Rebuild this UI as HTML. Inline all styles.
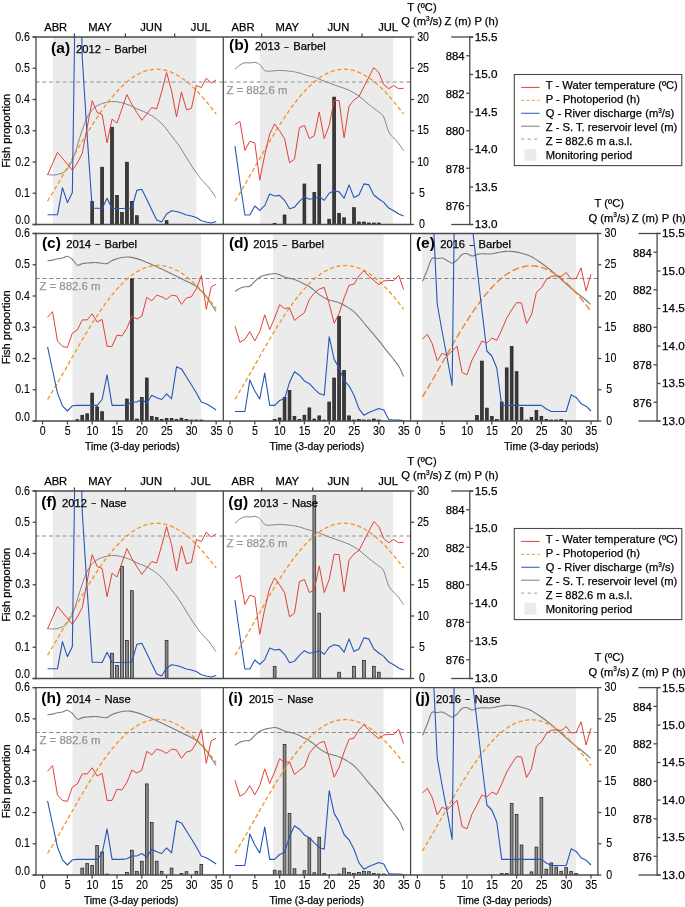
<!DOCTYPE html>
<html><head><meta charset="utf-8"><title>Fish proportion figure</title>
<style>html,body{margin:0;padding:0;background:#fff;}body{width:685px;height:907px;overflow:hidden;font-family:"Liberation Sans", sans-serif;}svg{display:block;will-change:transform;}</style>
</head><body>
<svg width="685" height="907" viewBox="0 0 685 907" font-family='"Liberation Sans", sans-serif'><defs><clipPath id="cpa"><rect x="36" y="37" width="187.3" height="187.5"/></clipPath><clipPath id="cpb"><rect x="223.3" y="37" width="187.3" height="187.5"/></clipPath><clipPath id="cpc"><rect x="36" y="233.5" width="187.3" height="187.5"/></clipPath><clipPath id="cpd"><rect x="223.3" y="233.5" width="187.3" height="187.5"/></clipPath><clipPath id="cpe"><rect x="410.6" y="233.5" width="187.3" height="187.5"/></clipPath><clipPath id="cpf"><rect x="36" y="491" width="187.3" height="187.5"/></clipPath><clipPath id="cpg"><rect x="223.3" y="491" width="187.3" height="187.5"/></clipPath><clipPath id="cph"><rect x="36" y="687.6" width="187.3" height="187.4"/></clipPath><clipPath id="cpi"><rect x="223.3" y="687.6" width="187.3" height="187.4"/></clipPath><clipPath id="cpj"><rect x="410.6" y="687.6" width="187.3" height="187.4"/></clipPath></defs><g clip-path="url(#cpa)"><rect x="52.9" y="37" width="143.5" height="187.5" fill="#ebebeb"/><line x1="35.5" y1="82.1" x2="223.3" y2="82.1" stroke="#b0b0b0" stroke-width="1.5" stroke-dasharray="3.9,2.9"/><rect x="90.8" y="201.4" width="2.8" height="24.1" fill="#3b3b3b" stroke="#1a1a1a" stroke-width="0.7"/><rect x="100.72" y="167.2" width="2.8" height="58.3" fill="#3b3b3b" stroke="#1a1a1a" stroke-width="0.7"/><rect x="110.64" y="127.2" width="2.8" height="98.3" fill="#3b3b3b" stroke="#1a1a1a" stroke-width="0.7"/><rect x="115.6" y="195.5" width="2.8" height="30" fill="#3b3b3b" stroke="#1a1a1a" stroke-width="0.7"/><rect x="120.56" y="212.5" width="2.8" height="13" fill="#3b3b3b" stroke="#1a1a1a" stroke-width="0.7"/><rect x="125.52" y="162.2" width="2.8" height="63.3" fill="#3b3b3b" stroke="#1a1a1a" stroke-width="0.7"/><rect x="130.48" y="201.4" width="2.8" height="24.1" fill="#3b3b3b" stroke="#1a1a1a" stroke-width="0.7"/><rect x="135.44" y="215.7" width="2.8" height="9.8" fill="#3b3b3b" stroke="#1a1a1a" stroke-width="0.7"/><rect x="165.2" y="220.7" width="2.8" height="4.8" fill="#3b3b3b" stroke="#1a1a1a" stroke-width="0.7"/><path d="M47.31,174.6 C48.53,174.67 52.16,175.25 54.6,175 C57.04,174.75 59.99,173.9 61.94,173.1 C63.89,172.3 64.85,171.78 66.31,170.2 C67.77,168.62 69.28,166.4 70.72,163.6 C72.17,160.8 73.54,157.53 74.99,153.4 C76.44,149.27 77.94,143.42 79.4,138.8 C80.87,134.18 82.3,129.6 83.77,125.7 C85.23,121.8 86.48,118.33 88.18,115.4 C89.89,112.47 91.8,110.03 93.99,108.1 C96.17,106.17 98.35,104.88 101.28,103.8 C104.2,102.72 108.37,101.85 111.54,101.6 C114.72,101.35 117.25,101.67 120.32,102.3 C123.4,102.93 127.23,104.3 130,105.4 C132.76,106.5 134.57,107.87 136.89,108.9 C139.2,109.93 141.57,110.57 143.88,111.6 C146.2,112.63 148.48,113.7 150.78,115.1 C153.08,116.5 155.36,118.03 157.67,120 C159.99,121.97 162.35,124.25 164.67,126.9 C166.98,129.55 169.25,132.9 171.56,135.9 C173.87,138.9 176.18,141.55 178.5,144.9 C180.83,148.25 183.18,152.3 185.5,156 C187.81,159.7 190.09,163.63 192.39,167.1 C194.69,170.57 197.67,174.6 199.29,176.8 C200.91,179 200.48,178.45 202.11,180.3 C203.75,182.15 206.79,185.02 209.11,187.9 C211.42,190.78 214.85,195.98 216,197.6" fill="none" stroke="#858585" stroke-width="1.0"/><path d="M47.56,201.16 L50.04,197.12 L52.52,192.99 L55,188.79 L57.48,184.54 L59.96,180.23 L62.44,175.9 L64.92,171.54 L67.4,167.17 L69.88,162.79 L72.36,158.43 L74.84,154.08 L77.32,149.77 L79.8,145.49 L82.28,141.26 L84.76,137.09 L87.24,132.98 L89.72,128.94 L92.2,124.99 L94.68,121.12 L97.16,117.35 L99.64,113.69 L102.12,110.13 L104.6,106.69 L107.08,103.37 L109.56,100.18 L112.04,97.13 L114.52,94.21 L117,91.43 L119.48,88.81 L121.96,86.33 L124.44,84.01 L126.92,81.85 L129.4,79.85 L131.88,78.02 L134.36,76.35 L136.84,74.86 L139.32,73.54 L141.8,72.39 L144.28,71.41 L146.76,70.62 L149.24,70 L151.72,69.55 L154.2,69.29 L156.68,69.2 L159.16,69.29 L161.64,69.55 L164.12,69.99 L166.6,70.6 L169.08,71.39 L171.56,72.34 L174.04,73.46 L176.52,74.74 L179,76.19 L181.48,77.79 L183.96,79.54 L186.44,81.45 L188.92,83.5 L191.4,85.69 L193.88,88.02 L196.36,90.48 L198.84,93.07 L201.32,95.77 L203.8,98.59 L206.28,101.52 L208.76,104.54 L211.24,107.66 L213.72,110.87 L216.2,114.15" fill="none" stroke="#f39322" stroke-width="1.3" stroke-dasharray="4.2,2.6"/><path d="M47.56,214.8 L52.52,214.8 L57.48,214.8 L62.44,187.6 L67.4,202.7 L72.36,192.4 L77.32,-152 L82.28,58 L87.24,137 L92.2,208.2 L97.16,208.2 L102.12,208.5 L107.08,198.2 L112.04,208.5 L117,208.5 L121.96,208.5 L126.92,208.2 L131.88,208 L136.84,190.4 L141.8,189.3 L146.76,199.2 L151.72,209.8 L156.68,219.9 L161.64,222 L166.6,214 L171.56,210.8 L176.52,211.5 L181.48,213 L186.44,215 L191.4,216 L196.36,217.5 L201.32,220.7 L206.28,222 L211.24,223 L216.2,221.4" fill="none" stroke="#2457b8" stroke-width="1.1" stroke-linejoin="round"/><path d="M47.56,175 L52.52,163.7 L57.48,152.4 L62.44,158.3 L67.4,164.3 L72.36,170.2 L77.32,163 L82.28,153.4 L87.24,127 L92.2,100.7 L97.16,112.5 L102.12,114.5 L107.08,142.8 L112.04,119.2 L117,123 L121.96,108.7 L126.92,94.6 L131.88,104.5 L136.84,112.5 L141.8,120.3 L146.76,114 L151.72,107.6 L156.68,109 L161.64,91.9 L166.6,72.5 L171.56,90.8 L176.52,117 L181.48,91.9 L186.44,109.8 L191.4,108.3 L196.36,85.5 L201.32,87.6 L206.28,78.2 L211.24,83 L216.2,79.9" fill="none" stroke="#e04238" stroke-width="1.0" stroke-linejoin="round"/></g><text x="51.1" y="52.6" font-size="15.5" text-anchor="start" font-weight="bold" fill="#000000">(a)</text><text x="76" y="52.6" font-size="11.2" text-anchor="start" font-weight="normal" fill="#000000" stroke="#000000" stroke-width="0.25">2012 <tspan font-size="8.6" dx="0.8" dy="-0.8">−</tspan><tspan dx="1.4" dy="0.8"> Barbel</tspan></text><g clip-path="url(#cpb)"><rect x="260" y="37" width="133.1" height="187.5" fill="#ebebeb"/><line x1="222.8" y1="82.1" x2="410.6" y2="82.1" stroke="#b0b0b0" stroke-width="1.5" stroke-dasharray="3.9,2.9"/><rect x="273.24" y="223.3" width="2.8" height="2.2" fill="#3b3b3b" stroke="#1a1a1a" stroke-width="0.7"/><rect x="283.16" y="215" width="2.8" height="10.5" fill="#3b3b3b" stroke="#1a1a1a" stroke-width="0.7"/><rect x="303" y="184" width="2.8" height="41.5" fill="#3b3b3b" stroke="#1a1a1a" stroke-width="0.7"/><rect x="312.92" y="192.5" width="2.8" height="33" fill="#3b3b3b" stroke="#1a1a1a" stroke-width="0.7"/><rect x="317.88" y="164.5" width="2.8" height="61" fill="#3b3b3b" stroke="#1a1a1a" stroke-width="0.7"/><rect x="327.8" y="219.2" width="2.8" height="6.3" fill="#3b3b3b" stroke="#1a1a1a" stroke-width="0.7"/><rect x="332.76" y="97.1" width="2.8" height="128.4" fill="#3b3b3b" stroke="#1a1a1a" stroke-width="0.7"/><rect x="337.72" y="213.4" width="2.8" height="12.1" fill="#3b3b3b" stroke="#1a1a1a" stroke-width="0.7"/><rect x="342.68" y="217.8" width="2.8" height="7.7" fill="#3b3b3b" stroke="#1a1a1a" stroke-width="0.7"/><rect x="352.6" y="207.7" width="2.8" height="17.8" fill="#3b3b3b" stroke="#1a1a1a" stroke-width="0.7"/><rect x="357.56" y="222" width="2.8" height="3.5" fill="#3b3b3b" stroke="#1a1a1a" stroke-width="0.7"/><rect x="362.52" y="222" width="2.8" height="3.5" fill="#3b3b3b" stroke="#1a1a1a" stroke-width="0.7"/><rect x="367.48" y="223" width="2.8" height="2.5" fill="#3b3b3b" stroke="#1a1a1a" stroke-width="0.7"/><rect x="372.44" y="223" width="2.8" height="2.5" fill="#3b3b3b" stroke="#1a1a1a" stroke-width="0.7"/><rect x="377.4" y="223" width="2.8" height="2.5" fill="#3b3b3b" stroke="#1a1a1a" stroke-width="0.7"/><path d="M234.96,69.3 C235.79,68.58 238.27,66.08 239.92,65 C241.57,63.92 243.23,63.13 244.88,62.8 C246.53,62.47 248.19,63.07 249.84,63 C251.49,62.93 253.15,62.15 254.8,62.4 C256.45,62.65 258.11,63.17 259.76,64.5 C261.41,65.83 263.07,69.28 264.72,70.4 C266.37,71.52 267.2,71.2 269.68,71.2 C272.16,71.2 276.29,70.4 279.6,70.4 C282.91,70.4 287.04,70.97 289.52,71.2 C292,71.43 292.83,71.52 294.48,71.8 C296.13,72.08 297.79,72.43 299.44,72.9 C301.09,73.37 302.75,74.07 304.4,74.6 C306.05,75.13 307.71,75.68 309.36,76.1 C311.01,76.52 312.67,76.58 314.32,77.1 C315.97,77.62 316.8,78.22 319.28,79.2 C321.76,80.18 325.89,81.77 329.2,83 C332.51,84.23 335.81,85.4 339.12,86.6 C342.43,87.8 345.73,88.62 349.04,90.2 C352.35,91.78 355.65,93.72 358.96,96.1 C362.27,98.48 365.57,101.85 368.88,104.5 C372.19,107.15 376.32,109.9 378.8,112 C381.28,114.1 382.11,113.78 383.76,117.1 C385.41,120.42 387.07,128.42 388.72,131.9 C390.37,135.38 392.03,136.08 393.68,138 C395.33,139.92 396.99,141.27 398.64,143.4 C400.29,145.53 402.77,149.57 403.6,150.8" fill="none" stroke="#858585" stroke-width="1.0"/><path d="M234.96,201.16 L237.44,197.12 L239.92,192.99 L242.4,188.79 L244.88,184.54 L247.36,180.23 L249.84,175.9 L252.32,171.54 L254.8,167.17 L257.28,162.79 L259.76,158.43 L262.24,154.08 L264.72,149.77 L267.2,145.49 L269.68,141.26 L272.16,137.09 L274.64,132.98 L277.12,128.94 L279.6,124.99 L282.08,121.12 L284.56,117.35 L287.04,113.69 L289.52,110.13 L292,106.69 L294.48,103.37 L296.96,100.18 L299.44,97.13 L301.92,94.21 L304.4,91.43 L306.88,88.81 L309.36,86.33 L311.84,84.01 L314.32,81.85 L316.8,79.85 L319.28,78.02 L321.76,76.35 L324.24,74.86 L326.72,73.54 L329.2,72.39 L331.68,71.41 L334.16,70.62 L336.64,70 L339.12,69.55 L341.6,69.29 L344.08,69.2 L346.56,69.29 L349.04,69.55 L351.52,69.99 L354,70.6 L356.48,71.39 L358.96,72.34 L361.44,73.46 L363.92,74.74 L366.4,76.19 L368.88,77.79 L371.36,79.54 L373.84,81.45 L376.32,83.5 L378.8,85.69 L381.28,88.02 L383.76,90.48 L386.24,93.07 L388.72,95.77 L391.2,98.59 L393.68,101.52 L396.16,104.54 L398.64,107.66 L401.12,110.87 L403.6,114.15" fill="none" stroke="#f39322" stroke-width="1.3" stroke-dasharray="4.2,2.6"/><path d="M234.96,146.2 L239.92,182 L244.88,215 L249.84,215 L254.8,206 L259.76,210.4 L264.72,205.6 L269.68,194 L274.64,196 L279.6,195.4 L284.56,200.3 L289.52,208.7 L294.48,207.2 L299.44,201.3 L304.4,196.7 L309.36,199.2 L314.32,198.2 L319.28,196.7 L324.24,200.3 L329.2,193.3 L334.16,190.8 L339.12,191.9 L344.08,198.2 L349.04,184.9 L354,197.6 L358.96,195 L363.92,183.9 L368.88,184.9 L373.84,195 L378.8,199 L383.76,202.4 L388.72,208.1 L393.68,210.8 L398.64,214 L403.6,216.1" fill="none" stroke="#2457b8" stroke-width="1.1" stroke-linejoin="round"/><path d="M234.96,124.5 L239.92,121.3 L244.88,150.4 L249.84,141.3 L254.8,142.8 L259.76,180.3 L264.72,155 L269.68,134 L274.64,123.9 L279.6,130.8 L284.56,138.6 L289.52,162.8 L294.48,159.2 L299.44,127.6 L304.4,125.5 L309.36,138.6 L314.32,135.7 L319.28,111.9 L324.24,138.6 L329.2,125.5 L334.16,100.3 L339.12,100.7 L344.08,137.8 L349.04,106.2 L354,99.9 L358.96,96.5 L363.92,86.8 L368.88,77.1 L373.84,67.6 L378.8,72.5 L383.76,84.5 L388.72,88.7 L393.68,85.5 L398.64,88.7 L403.6,88.3" fill="none" stroke="#e04238" stroke-width="1.0" stroke-linejoin="round"/></g><text x="229.1" y="50.3" font-size="15.5" text-anchor="start" font-weight="bold" fill="#000000">(b)</text><text x="255" y="50.3" font-size="11.2" text-anchor="start" font-weight="normal" fill="#000000" stroke="#000000" stroke-width="0.25">2013 <tspan font-size="8.6" dx="0.8" dy="-0.8">−</tspan><tspan dx="1.4" dy="0.8"> Barbel</tspan></text><text x="226.4" y="94" font-size="11.4" text-anchor="start" font-weight="normal" fill="#959595" stroke="#959595" stroke-width="0.25">Z = 882.6 m</text><g clip-path="url(#cpc)"><rect x="72.6" y="233.5" width="128.5" height="187.5" fill="#ebebeb"/><line x1="35.5" y1="278.5" x2="223.3" y2="278.5" stroke="#8a8a8a" stroke-width="1.1" stroke-dasharray="4.3,2.5"/><rect x="75.92" y="419.7" width="2.8" height="2.3" fill="#3b3b3b" stroke="#1a1a1a" stroke-width="0.7"/><rect x="80.88" y="415.3" width="2.8" height="6.7" fill="#3b3b3b" stroke="#1a1a1a" stroke-width="0.7"/><rect x="85.84" y="413.8" width="2.8" height="8.2" fill="#3b3b3b" stroke="#1a1a1a" stroke-width="0.7"/><rect x="90.8" y="393.1" width="2.8" height="28.9" fill="#3b3b3b" stroke="#1a1a1a" stroke-width="0.7"/><rect x="95.76" y="406.8" width="2.8" height="15.2" fill="#3b3b3b" stroke="#1a1a1a" stroke-width="0.7"/><rect x="100.72" y="411.7" width="2.8" height="10.3" fill="#3b3b3b" stroke="#1a1a1a" stroke-width="0.7"/><rect x="125.52" y="399" width="2.8" height="23" fill="#3b3b3b" stroke="#1a1a1a" stroke-width="0.7"/><rect x="130.48" y="279" width="2.8" height="143" fill="#3b3b3b" stroke="#1a1a1a" stroke-width="0.7"/><rect x="135.44" y="419" width="2.8" height="3" fill="#3b3b3b" stroke="#1a1a1a" stroke-width="0.7"/><rect x="140.4" y="397.4" width="2.8" height="24.6" fill="#3b3b3b" stroke="#1a1a1a" stroke-width="0.7"/><rect x="145.36" y="378" width="2.8" height="44" fill="#3b3b3b" stroke="#1a1a1a" stroke-width="0.7"/><rect x="150.32" y="416.3" width="2.8" height="5.7" fill="#3b3b3b" stroke="#1a1a1a" stroke-width="0.7"/><rect x="155.28" y="417.4" width="2.8" height="4.6" fill="#3b3b3b" stroke="#1a1a1a" stroke-width="0.7"/><rect x="160.24" y="419.5" width="2.8" height="2.5" fill="#3b3b3b" stroke="#1a1a1a" stroke-width="0.7"/><rect x="165.2" y="418.4" width="2.8" height="3.6" fill="#3b3b3b" stroke="#1a1a1a" stroke-width="0.7"/><rect x="170.16" y="418.4" width="2.8" height="3.6" fill="#3b3b3b" stroke="#1a1a1a" stroke-width="0.7"/><rect x="175.12" y="419.5" width="2.8" height="2.5" fill="#3b3b3b" stroke="#1a1a1a" stroke-width="0.7"/><rect x="180.08" y="418.2" width="2.8" height="3.8" fill="#3b3b3b" stroke="#1a1a1a" stroke-width="0.7"/><rect x="185.04" y="419.5" width="2.8" height="2.5" fill="#3b3b3b" stroke="#1a1a1a" stroke-width="0.7"/><rect x="190" y="420" width="2.8" height="2" fill="#3b3b3b" stroke="#1a1a1a" stroke-width="0.7"/><rect x="194.96" y="420" width="2.8" height="2" fill="#3b3b3b" stroke="#1a1a1a" stroke-width="0.7"/><rect x="199.92" y="420" width="2.8" height="2" fill="#3b3b3b" stroke="#1a1a1a" stroke-width="0.7"/><path d="M47.56,260.9 C48.39,260.77 50.87,260.45 52.52,260.1 C54.17,259.75 55.83,259.15 57.48,258.8 C59.13,258.45 60.79,258.42 62.44,258 C64.09,257.58 65.75,256.07 67.4,256.3 C69.05,256.53 70.71,257.93 72.36,259.4 C74.01,260.87 75.67,264.4 77.32,265.1 C78.97,265.8 80.63,263.95 82.28,263.6 C83.93,263.25 85.59,263.17 87.24,263 C88.89,262.83 90.55,262.67 92.2,262.6 C93.85,262.53 95.51,262.5 97.16,262.6 C98.81,262.7 100.47,263.03 102.12,263.2 C103.77,263.37 105.43,264.05 107.08,263.6 C108.73,263.15 110.39,261.3 112.04,260.5 C113.69,259.7 115.35,259.3 117,258.8 C118.65,258.3 120.31,257.8 121.96,257.5 C123.61,257.2 125.58,257.07 126.92,257 C128.26,256.93 128.34,256.83 130,257.1 C131.65,257.37 134.53,257.92 136.84,258.6 C139.15,259.28 141.56,260.3 143.88,261.2 C146.21,262.1 148.48,263 150.78,264 C153.08,265 155.36,266.12 157.67,267.2 C159.99,268.28 162.35,269.42 164.67,270.5 C166.98,271.58 169.25,272.58 171.56,273.7 C173.87,274.82 176.18,276.03 178.5,277.2 C180.83,278.37 183.18,279.55 185.5,280.7 C187.81,281.85 190.54,283.18 192.39,284.1 C194.24,285.02 195.46,285.38 196.61,286.2 C197.76,287.02 197.67,287.27 199.29,289 C200.9,290.73 203.96,293.6 206.28,296.6 C208.6,299.6 211.6,304.57 213.22,307 C214.84,309.43 215.54,310.5 216,311.2" fill="none" stroke="#7c7c7c" stroke-width="1.1"/><path d="M47.56,399.51 L50.04,395.51 L52.52,391.43 L55,387.27 L57.48,383.04 L59.96,378.76 L62.44,374.44 L64.92,370.09 L67.4,365.73 L69.88,361.35 L72.36,356.98 L74.84,352.63 L77.32,348.29 L79.8,343.99 L82.28,339.74 L84.76,335.53 L87.24,331.39 L89.72,327.31 L92.2,323.31 L94.68,319.4 L97.16,315.58 L99.64,311.85 L102.12,308.24 L104.6,304.73 L107.08,301.35 L109.56,298.09 L112.04,294.96 L114.52,291.97 L117,289.11 L119.48,286.41 L121.96,283.85 L124.44,281.44 L126.92,279.2 L129.4,277.11 L131.88,275.19 L134.36,273.43 L136.84,271.85 L139.32,270.43 L141.8,269.19 L144.28,268.12 L146.76,267.23 L149.24,266.51 L151.72,265.97 L154.2,265.61 L156.68,265.43 L159.16,265.42 L161.64,265.59 L164.12,265.93 L166.6,266.45 L169.08,267.14 L171.56,268 L174.04,269.03 L176.52,270.23 L179,271.59 L181.48,273.1 L183.96,274.78 L186.44,276.6 L188.92,278.58 L191.4,280.69 L193.88,282.95 L196.36,285.34 L198.84,287.86 L201.32,290.5 L203.8,293.26 L206.28,296.13 L208.76,299.1 L211.24,302.17 L213.72,305.33 L216.2,308.57" fill="none" stroke="#f39322" stroke-width="1.3" stroke-dasharray="4.2,2.6"/><path d="M47.56,346.8 L52.52,370 L57.48,393.1 L62.44,405.8 L67.4,411 L72.36,405.8 L77.32,405.4 L82.28,405.4 L87.24,405.4 L92.2,405.4 L97.16,405.4 L102.12,399.5 L107.08,374.8 L112.04,405.4 L117,405.4 L121.96,405.4 L126.92,404.7 L131.88,402 L136.84,402 L141.8,399.5 L146.76,403.2 L151.72,395.2 L156.68,397.8 L161.64,399.5 L166.6,393.8 L171.56,398.8 L176.52,366.8 L181.48,368.9 L186.44,377 L191.4,384.7 L196.36,393 L201.32,402 L206.28,403.7 L211.24,406.8 L216.2,410" fill="none" stroke="#2457b8" stroke-width="1.1" stroke-linejoin="round"/><path d="M47.56,317.3 L52.52,311.6 L57.48,340.9 L62.44,346.4 L67.4,347.4 L72.36,333.1 L77.32,330 L82.28,319.9 L87.24,319.9 L92.2,313.8 L97.16,322 L102.12,319.4 L107.08,346.4 L112.04,346.4 L117,335.2 L121.96,335.9 L126.92,328.3 L131.88,316 L136.84,319 L141.8,316.3 L146.76,297.3 L151.72,300.9 L156.68,295.2 L161.64,296.7 L166.6,299.4 L171.56,295.2 L176.52,295.9 L181.48,304.3 L186.44,298 L191.4,296.7 L196.36,288.9 L201.32,275.6 L206.28,309.3 L211.24,286.8 L216.2,284.1" fill="none" stroke="#e04238" stroke-width="1.0" stroke-linejoin="round"/></g><text x="41.9" y="247.8" font-size="15.5" text-anchor="start" font-weight="bold" fill="#000000">(c)</text><text x="66.2" y="247.8" font-size="11.2" text-anchor="start" font-weight="normal" fill="#000000" stroke="#000000" stroke-width="0.25">2014 <tspan font-size="8.6" dx="0.8" dy="-0.8">−</tspan><tspan dx="1.4" dy="0.8"> Barbel</tspan></text><text x="39.4" y="290.4" font-size="11.4" text-anchor="start" font-weight="normal" fill="#959595" stroke="#959595" stroke-width="0.25">Z = 882.6 m</text><g clip-path="url(#cpd)"><rect x="273.1" y="233.5" width="110.5" height="187.5" fill="#ebebeb"/><line x1="222.8" y1="278.5" x2="410.6" y2="278.5" stroke="#8a8a8a" stroke-width="1.1" stroke-dasharray="4.3,2.5"/><rect x="273.24" y="419.5" width="2.8" height="2.5" fill="#3b3b3b" stroke="#1a1a1a" stroke-width="0.7"/><rect x="278.2" y="418" width="2.8" height="4" fill="#3b3b3b" stroke="#1a1a1a" stroke-width="0.7"/><rect x="283.16" y="397.4" width="2.8" height="24.6" fill="#3b3b3b" stroke="#1a1a1a" stroke-width="0.7"/><rect x="288.12" y="390.4" width="2.8" height="31.6" fill="#3b3b3b" stroke="#1a1a1a" stroke-width="0.7"/><rect x="293.08" y="416.3" width="2.8" height="5.7" fill="#3b3b3b" stroke="#1a1a1a" stroke-width="0.7"/><rect x="298.04" y="419.5" width="2.8" height="2.5" fill="#3b3b3b" stroke="#1a1a1a" stroke-width="0.7"/><rect x="303" y="415.2" width="2.8" height="6.8" fill="#3b3b3b" stroke="#1a1a1a" stroke-width="0.7"/><rect x="307.96" y="407.9" width="2.8" height="14.1" fill="#3b3b3b" stroke="#1a1a1a" stroke-width="0.7"/><rect x="312.92" y="419" width="2.8" height="3" fill="#3b3b3b" stroke="#1a1a1a" stroke-width="0.7"/><rect x="317.88" y="415.9" width="2.8" height="6.1" fill="#3b3b3b" stroke="#1a1a1a" stroke-width="0.7"/><rect x="322.84" y="420" width="2.8" height="2" fill="#3b3b3b" stroke="#1a1a1a" stroke-width="0.7"/><rect x="327.8" y="402" width="2.8" height="20" fill="#3b3b3b" stroke="#1a1a1a" stroke-width="0.7"/><rect x="332.76" y="378" width="2.8" height="44" fill="#3b3b3b" stroke="#1a1a1a" stroke-width="0.7"/><rect x="337.72" y="316.3" width="2.8" height="105.7" fill="#3b3b3b" stroke="#1a1a1a" stroke-width="0.7"/><rect x="342.68" y="370.6" width="2.8" height="51.4" fill="#3b3b3b" stroke="#1a1a1a" stroke-width="0.7"/><rect x="347.64" y="415.9" width="2.8" height="6.1" fill="#3b3b3b" stroke="#1a1a1a" stroke-width="0.7"/><rect x="352.6" y="420" width="2.8" height="2" fill="#3b3b3b" stroke="#1a1a1a" stroke-width="0.7"/><rect x="357.56" y="419.5" width="2.8" height="2.5" fill="#3b3b3b" stroke="#1a1a1a" stroke-width="0.7"/><rect x="362.52" y="420" width="2.8" height="2" fill="#3b3b3b" stroke="#1a1a1a" stroke-width="0.7"/><rect x="367.48" y="420" width="2.8" height="2" fill="#3b3b3b" stroke="#1a1a1a" stroke-width="0.7"/><rect x="372.44" y="419" width="2.8" height="3" fill="#3b3b3b" stroke="#1a1a1a" stroke-width="0.7"/><rect x="377.4" y="420" width="2.8" height="2" fill="#3b3b3b" stroke="#1a1a1a" stroke-width="0.7"/><path d="M234.96,291.4 C235.79,290.88 238.27,289.07 239.92,288.3 C241.57,287.53 243.23,287.15 244.88,286.8 C246.53,286.45 248.19,287.08 249.84,286.2 C251.49,285.32 253.15,282.98 254.8,281.5 C256.45,280.02 258.11,278.35 259.76,277.3 C261.41,276.25 263.07,275.72 264.72,275.2 C266.37,274.68 268.03,274.48 269.68,274.2 C271.33,273.92 272.99,273.4 274.64,273.5 C276.29,273.6 277.95,274.23 279.6,274.8 C281.25,275.37 282.91,276.3 284.56,276.9 C286.21,277.5 287.87,277.98 289.52,278.4 C291.17,278.82 292.83,278.88 294.48,279.4 C296.13,279.92 297.79,280.72 299.44,281.5 C301.09,282.28 302.75,283.22 304.4,284.1 C306.05,284.98 307.71,285.75 309.36,286.8 C311.01,287.85 312.54,289.02 314.32,290.4 C316.1,291.78 317.96,293.65 320.02,295.1 C322.09,296.55 324.53,298.12 326.72,299.1 C328.91,300.08 331.02,300.35 333.17,301 C335.32,301.65 337.47,302.12 339.62,303 C341.77,303.88 343.83,304.98 346.06,306.3 C348.3,307.62 350.78,309.03 353.01,310.9 C355.24,312.77 357.31,315.1 359.46,317.5 C361.61,319.9 363.71,322.68 365.9,325.3 C368.09,327.92 370.37,330.57 372.6,333.2 C374.83,335.83 377.11,338.37 379.3,341.1 C381.49,343.83 383.59,346.87 385.74,349.6 C387.89,352.33 389.96,354.65 392.19,357.5 C394.42,360.35 397.23,363.52 399.14,366.7 C401.04,369.88 402.86,374.95 403.6,376.6" fill="none" stroke="#7c7c7c" stroke-width="1.1"/><path d="M234.96,399.05 L237.44,395.05 L239.92,390.95 L242.4,386.78 L244.88,382.55 L247.36,378.26 L249.84,373.94 L252.32,369.58 L254.8,365.22 L257.28,360.84 L259.76,356.47 L262.24,352.12 L264.72,347.79 L267.2,343.49 L269.68,339.24 L272.16,335.05 L274.64,330.91 L277.12,326.85 L279.6,322.86 L282.08,318.96 L284.56,315.15 L287.04,311.44 L289.52,307.84 L292,304.35 L294.48,300.99 L296.96,297.74 L299.44,294.63 L301.92,291.66 L304.4,288.83 L306.88,286.14 L309.36,283.6 L311.84,281.22 L314.32,279 L316.8,276.93 L319.28,275.03 L321.76,273.3 L324.24,271.74 L326.72,270.35 L329.2,269.13 L331.68,268.08 L334.16,267.22 L336.64,266.52 L339.12,266.01 L341.6,265.67 L344.08,265.51 L346.56,265.53 L349.04,265.73 L351.52,266.09 L354,266.64 L356.48,267.35 L358.96,268.24 L361.44,269.29 L363.92,270.51 L366.4,271.89 L368.88,273.43 L371.36,275.12 L373.84,276.97 L376.32,278.96 L378.8,281.1 L381.28,283.38 L383.76,285.78 L386.24,288.32 L388.72,290.98 L391.2,293.75 L393.68,296.64 L396.16,299.62 L398.64,302.7 L401.12,305.88 L403.6,309.13" fill="none" stroke="#f39322" stroke-width="1.3" stroke-dasharray="4.2,2.6"/><path d="M234.96,411.5 L239.92,411.5 L244.88,411.5 L249.84,380.1 L254.8,391 L259.76,399 L264.72,373.1 L269.68,405.4 L274.64,405.4 L279.6,400.5 L284.56,398.4 L289.52,382.6 L294.48,371.7 L299.44,375.2 L304.4,380.9 L309.36,383.7 L314.32,388.9 L319.28,393.6 L324.24,395.2 L329.2,336.7 L334.16,359.4 L339.12,367.9 L344.08,380.5 L349.04,385.8 L354,395.2 L358.96,408.9 L363.92,415.2 L368.88,412.5 L373.84,410.5 L378.8,408.5 L383.76,410 L388.72,419.5 L393.68,420 L398.64,420 L403.6,420.5" fill="none" stroke="#2457b8" stroke-width="1.1" stroke-linejoin="round"/><path d="M234.96,326.2 L239.92,342.2 L244.88,339.4 L249.84,331.7 L254.8,340.9 L259.76,331.7 L264.72,314.8 L269.68,329.5 L274.64,318 L279.6,304.7 L284.56,308.5 L289.52,307.9 L294.48,320.5 L299.44,316.3 L304.4,312.7 L309.36,299.4 L314.32,293 L319.28,289 L324.24,287.4 L329.2,303.6 L334.16,323.2 L339.12,313.5 L344.08,298 L349.04,285.3 L354,284.1 L358.96,275.9 L363.92,270.6 L368.88,276.3 L373.84,280.5 L378.8,284.7 L383.76,280.9 L388.72,280.5 L393.68,280.5 L398.64,275.2 L403.6,289.5" fill="none" stroke="#e04238" stroke-width="1.0" stroke-linejoin="round"/></g><text x="228.9" y="248.4" font-size="15.5" text-anchor="start" font-weight="bold" fill="#000000">(d)</text><text x="253.2" y="248.4" font-size="11.2" text-anchor="start" font-weight="normal" fill="#000000" stroke="#000000" stroke-width="0.25">2015 <tspan font-size="8.6" dx="0.8" dy="-0.8">−</tspan><tspan dx="1.4" dy="0.8"> Barbel</tspan></text><g clip-path="url(#cpe)"><rect x="422.2" y="233.5" width="153.7" height="187.5" fill="#ebebeb"/><line x1="410.1" y1="278.5" x2="597.9" y2="278.5" stroke="#8a8a8a" stroke-width="1.1" stroke-dasharray="4.3,2.5"/><rect x="475.52" y="415.6" width="2.8" height="6.4" fill="#3b3b3b" stroke="#1a1a1a" stroke-width="0.7"/><rect x="480.48" y="361.1" width="2.8" height="60.9" fill="#3b3b3b" stroke="#1a1a1a" stroke-width="0.7"/><rect x="485.44" y="408.1" width="2.8" height="13.9" fill="#3b3b3b" stroke="#1a1a1a" stroke-width="0.7"/><rect x="490.4" y="416.4" width="2.8" height="5.6" fill="#3b3b3b" stroke="#1a1a1a" stroke-width="0.7"/><rect x="495.36" y="419.5" width="2.8" height="2.5" fill="#3b3b3b" stroke="#1a1a1a" stroke-width="0.7"/><rect x="500.32" y="402" width="2.8" height="20" fill="#3b3b3b" stroke="#1a1a1a" stroke-width="0.7"/><rect x="505.28" y="367.9" width="2.8" height="54.1" fill="#3b3b3b" stroke="#1a1a1a" stroke-width="0.7"/><rect x="510.24" y="346.4" width="2.8" height="75.6" fill="#3b3b3b" stroke="#1a1a1a" stroke-width="0.7"/><rect x="515.2" y="371.7" width="2.8" height="50.3" fill="#3b3b3b" stroke="#1a1a1a" stroke-width="0.7"/><rect x="520.16" y="407.5" width="2.8" height="14.5" fill="#3b3b3b" stroke="#1a1a1a" stroke-width="0.7"/><rect x="525.12" y="420" width="2.8" height="2" fill="#3b3b3b" stroke="#1a1a1a" stroke-width="0.7"/><rect x="530.08" y="417.4" width="2.8" height="4.6" fill="#3b3b3b" stroke="#1a1a1a" stroke-width="0.7"/><rect x="535.04" y="410.4" width="2.8" height="11.6" fill="#3b3b3b" stroke="#1a1a1a" stroke-width="0.7"/><rect x="540" y="416.3" width="2.8" height="5.7" fill="#3b3b3b" stroke="#1a1a1a" stroke-width="0.7"/><rect x="544.96" y="419.5" width="2.8" height="2.5" fill="#3b3b3b" stroke="#1a1a1a" stroke-width="0.7"/><rect x="549.92" y="420" width="2.8" height="2" fill="#3b3b3b" stroke="#1a1a1a" stroke-width="0.7"/><rect x="554.88" y="420" width="2.8" height="2" fill="#3b3b3b" stroke="#1a1a1a" stroke-width="0.7"/><rect x="559.84" y="419.5" width="2.8" height="2.5" fill="#3b3b3b" stroke="#1a1a1a" stroke-width="0.7"/><path d="M422.36,281.4 C423.19,279.5 425.75,273.78 427.32,270 C428.89,266.22 430.13,260.62 431.78,258.7 C433.44,256.78 435.5,258.62 437.24,258.5 C438.98,258.38 440.55,257.67 442.2,258 C443.85,258.33 445.51,259.63 447.16,260.5 C448.81,261.37 450.47,263.28 452.12,263.2 C453.77,263.12 455.43,261.45 457.08,260 C458.73,258.55 460.39,255.57 462.04,254.5 C463.69,253.43 465.35,253.35 467,253.6 C468.65,253.85 470.31,255.85 471.96,256 C473.61,256.15 475.27,254.88 476.92,254.5 C478.57,254.12 479.7,253.78 481.88,253.7 C484.06,253.62 487.37,254.18 490.01,254 C492.66,253.82 495.14,253.03 497.75,252.6 C500.36,252.17 503.04,251.57 505.69,251.4 C508.33,251.23 510.98,251.3 513.62,251.6 C516.27,251.9 518.91,252.5 521.56,253.2 C524.21,253.9 526.85,254.58 529.5,255.8 C532.14,257.02 534.79,258.8 537.43,260.5 C540.08,262.2 542.72,264.03 545.37,266 C548.01,267.97 550.74,270.12 553.3,272.3 C555.87,274.48 558.18,276.78 560.74,279.1 C563.31,281.42 566.03,283.95 568.68,286.2 C571.33,288.45 573.97,290.47 576.62,292.6 C579.26,294.73 582.24,297.03 584.55,299 C586.87,300.97 589.51,303.5 590.5,304.4" fill="none" stroke="#7c7c7c" stroke-width="1.1"/><path d="M422.36,396.96 L424.84,392.9 L427.32,388.76 L429.8,384.55 L432.28,380.28 L434.76,375.97 L437.24,371.63 L439.72,367.26 L442.2,362.89 L444.68,358.52 L447.16,354.16 L449.64,349.82 L452.12,345.51 L454.6,341.24 L457.08,337.02 L459.56,332.86 L462.04,328.76 L464.52,324.74 L467,320.81 L469.48,316.96 L471.96,313.21 L474.44,309.57 L476.92,306.03 L479.4,302.62 L481.88,299.33 L484.36,296.16 L486.84,293.13 L489.32,290.24 L491.8,287.5 L494.28,284.9 L496.76,282.45 L499.24,280.17 L501.72,278.04 L504.2,276.07 L506.68,274.27 L509.16,272.64 L511.64,271.18 L514.12,269.89 L516.6,268.78 L519.08,267.84 L521.56,267.08 L524.04,266.49 L526.52,266.09 L529,265.86 L531.48,265.8 L533.96,265.93 L536.44,266.23 L538.92,266.7 L541.4,267.35 L543.88,268.16 L546.36,269.15 L548.84,270.3 L551.32,271.62 L553.8,273.09 L556.28,274.73 L558.76,276.51 L561.24,278.45 L563.72,280.53 L566.2,282.75 L568.68,285.11 L571.16,287.59 L573.64,290.2 L576.12,292.93 L578.6,295.77 L581.08,298.72 L583.56,301.76 L586.04,304.9 L588.52,308.12 L591,311.41" fill="none" stroke="#f17d24" stroke-width="1.35" stroke-dasharray="6.9,2.9"/><path d="M422.36,-300 L427.32,-100 L432.28,200 L437.24,304 L442.2,332 L447.16,358 L452.12,385.5 L457.08,5 L462.04,-200 L467,-100 L471.96,224 L476.92,267 L481.88,310 L486.84,351 L491.8,356 L496.76,368 L501.72,405.4 L506.68,405.4 L511.64,405.4 L516.6,405.4 L521.56,405.4 L526.52,405.4 L531.48,405.4 L536.44,405.4 L541.4,405.4 L546.36,409 L551.32,411.5 L556.28,411.5 L561.24,411.5 L566.2,411.5 L571.16,394.8 L576.12,397.4 L581.08,403.7 L586.04,406.2 L591,411" fill="none" stroke="#2457b8" stroke-width="1.1" stroke-linejoin="round"/><path d="M422.36,339 L427.32,334.4 L432.28,343.7 L437.24,360.9 L442.2,353.2 L447.16,355.8 L452.12,351 L457.08,346.3 L462.04,372.5 L467,374.8 L471.96,360.2 L476.92,351 L481.88,341 L486.84,343 L491.8,338.1 L496.76,340.4 L501.72,330 L506.68,318 L511.64,310 L516.6,302.6 L521.56,303 L526.52,323.6 L531.48,314.8 L536.44,292.1 L541.4,287.9 L546.36,279.5 L551.32,276.3 L556.28,275.9 L561.24,276.5 L566.2,272.5 L571.16,279 L576.12,278.4 L581.08,267.8 L586.04,291 L591,274.2" fill="none" stroke="#e04238" stroke-width="1.0" stroke-linejoin="round"/></g><text x="415.9" y="248.4" font-size="15.5" text-anchor="start" font-weight="bold" fill="#000000">(e)</text><text x="440.2" y="248.4" font-size="11.2" text-anchor="start" font-weight="normal" fill="#000000" stroke="#000000" stroke-width="0.25">2016 <tspan font-size="8.6" dx="0.8" dy="-0.8">−</tspan><tspan dx="1.4" dy="0.8"> Barbel</tspan></text><g clip-path="url(#cpf)"><rect x="52.9" y="491" width="143.5" height="187.5" fill="#ebebeb"/><line x1="35.5" y1="536.1" x2="223.3" y2="536.1" stroke="#b0b0b0" stroke-width="1.5" stroke-dasharray="3.9,2.9"/><rect x="110.64" y="653.2" width="2.8" height="26.3" fill="#8c8c8c" stroke="#1a1a1a" stroke-width="0.7"/><rect x="115.6" y="665.5" width="2.8" height="14" fill="#8c8c8c" stroke="#1a1a1a" stroke-width="0.7"/><rect x="120.56" y="566.3" width="2.8" height="113.2" fill="#8c8c8c" stroke="#1a1a1a" stroke-width="0.7"/><rect x="125.52" y="640.4" width="2.8" height="39.1" fill="#8c8c8c" stroke="#1a1a1a" stroke-width="0.7"/><rect x="130.48" y="590.7" width="2.8" height="88.8" fill="#8c8c8c" stroke="#1a1a1a" stroke-width="0.7"/><rect x="165.2" y="640.6" width="2.8" height="38.9" fill="#8c8c8c" stroke="#1a1a1a" stroke-width="0.7"/><path d="M47.31,628.6 C48.53,628.67 52.16,629.25 54.6,629 C57.04,628.75 59.99,627.9 61.94,627.1 C63.89,626.3 64.85,625.78 66.31,624.2 C67.77,622.62 69.28,620.4 70.72,617.6 C72.17,614.8 73.54,611.53 74.99,607.4 C76.44,603.27 77.94,597.42 79.4,592.8 C80.87,588.18 82.3,583.6 83.77,579.7 C85.23,575.8 86.48,572.33 88.18,569.4 C89.89,566.47 91.8,564.03 93.99,562.1 C96.17,560.17 98.35,558.88 101.28,557.8 C104.2,556.72 108.37,555.85 111.54,555.6 C114.72,555.35 117.25,555.67 120.32,556.3 C123.4,556.93 127.23,558.3 130,559.4 C132.76,560.5 134.57,561.87 136.89,562.9 C139.2,563.93 141.57,564.57 143.88,565.6 C146.2,566.63 148.48,567.7 150.78,569.1 C153.08,570.5 155.36,572.03 157.67,574 C159.99,575.97 162.35,578.25 164.67,580.9 C166.98,583.55 169.25,586.9 171.56,589.9 C173.87,592.9 176.18,595.55 178.5,598.9 C180.83,602.25 183.18,606.3 185.5,610 C187.81,613.7 190.09,617.63 192.39,621.1 C194.69,624.57 197.67,628.6 199.29,630.8 C200.91,633 200.48,632.45 202.11,634.3 C203.75,636.15 206.79,639.02 209.11,641.9 C211.42,644.78 214.85,649.98 216,651.6" fill="none" stroke="#858585" stroke-width="1.0"/><path d="M47.56,655.16 L50.04,651.12 L52.52,646.99 L55,642.79 L57.48,638.54 L59.96,634.23 L62.44,629.9 L64.92,625.54 L67.4,621.17 L69.88,616.79 L72.36,612.43 L74.84,608.08 L77.32,603.77 L79.8,599.49 L82.28,595.26 L84.76,591.09 L87.24,586.98 L89.72,582.94 L92.2,578.99 L94.68,575.12 L97.16,571.35 L99.64,567.69 L102.12,564.13 L104.6,560.69 L107.08,557.37 L109.56,554.18 L112.04,551.13 L114.52,548.21 L117,545.43 L119.48,542.81 L121.96,540.33 L124.44,538.01 L126.92,535.85 L129.4,533.85 L131.88,532.02 L134.36,530.35 L136.84,528.86 L139.32,527.54 L141.8,526.39 L144.28,525.41 L146.76,524.62 L149.24,524 L151.72,523.55 L154.2,523.29 L156.68,523.2 L159.16,523.29 L161.64,523.55 L164.12,523.99 L166.6,524.6 L169.08,525.39 L171.56,526.34 L174.04,527.46 L176.52,528.74 L179,530.19 L181.48,531.79 L183.96,533.54 L186.44,535.45 L188.92,537.5 L191.4,539.69 L193.88,542.02 L196.36,544.48 L198.84,547.07 L201.32,549.77 L203.8,552.59 L206.28,555.52 L208.76,558.54 L211.24,561.66 L213.72,564.87 L216.2,568.15" fill="none" stroke="#f39322" stroke-width="1.3" stroke-dasharray="4.2,2.6"/><path d="M47.56,668.8 L52.52,668.8 L57.48,668.8 L62.44,641.6 L67.4,656.7 L72.36,646.4 L77.32,302 L82.28,512 L87.24,591 L92.2,662.2 L97.16,662.2 L102.12,662.5 L107.08,652.2 L112.04,662.5 L117,662.5 L121.96,662.5 L126.92,662.2 L131.88,662 L136.84,644.4 L141.8,643.3 L146.76,653.2 L151.72,663.8 L156.68,673.9 L161.64,676 L166.6,668 L171.56,664.8 L176.52,665.5 L181.48,667 L186.44,669 L191.4,670 L196.36,671.5 L201.32,674.7 L206.28,676 L211.24,677 L216.2,675.4" fill="none" stroke="#2457b8" stroke-width="1.1" stroke-linejoin="round"/><path d="M47.56,629 L52.52,617.7 L57.48,606.4 L62.44,612.3 L67.4,618.3 L72.36,624.2 L77.32,617 L82.28,607.4 L87.24,581 L92.2,554.7 L97.16,566.5 L102.12,568.5 L107.08,596.8 L112.04,573.2 L117,577 L121.96,562.7 L126.92,548.6 L131.88,558.5 L136.84,566.5 L141.8,574.3 L146.76,568 L151.72,561.6 L156.68,563 L161.64,545.9 L166.6,526.5 L171.56,544.8 L176.52,571 L181.48,545.9 L186.44,563.8 L191.4,562.3 L196.36,539.5 L201.32,541.6 L206.28,532.2 L211.24,537 L216.2,533.9" fill="none" stroke="#e04238" stroke-width="1.0" stroke-linejoin="round"/></g><text x="41.3" y="506.8" font-size="15.5" text-anchor="start" font-weight="bold" fill="#000000">(f)</text><text x="62.1" y="506.8" font-size="11.2" text-anchor="start" font-weight="normal" fill="#000000" stroke="#000000" stroke-width="0.25">2012 <tspan font-size="8.6" dx="0.8" dy="-0.8">−</tspan><tspan dx="1.4" dy="0.8"> Nase</tspan></text><g clip-path="url(#cpg)"><rect x="260" y="491" width="133.1" height="187.5" fill="#ebebeb"/><line x1="222.8" y1="536.1" x2="410.6" y2="536.1" stroke="#b0b0b0" stroke-width="1.5" stroke-dasharray="3.9,2.9"/><rect x="273.24" y="666.5" width="2.8" height="13" fill="#8c8c8c" stroke="#1a1a1a" stroke-width="0.7"/><rect x="312.92" y="495.7" width="2.8" height="183.8" fill="#8c8c8c" stroke="#1a1a1a" stroke-width="0.7"/><rect x="317.88" y="613.2" width="2.8" height="66.3" fill="#8c8c8c" stroke="#1a1a1a" stroke-width="0.7"/><rect x="337.72" y="672.2" width="2.8" height="7.3" fill="#8c8c8c" stroke="#1a1a1a" stroke-width="0.7"/><rect x="352.6" y="666.3" width="2.8" height="13.2" fill="#8c8c8c" stroke="#1a1a1a" stroke-width="0.7"/><rect x="362.52" y="660.6" width="2.8" height="18.9" fill="#8c8c8c" stroke="#1a1a1a" stroke-width="0.7"/><rect x="372.44" y="666.3" width="2.8" height="13.2" fill="#8c8c8c" stroke="#1a1a1a" stroke-width="0.7"/><rect x="377.4" y="672.2" width="2.8" height="7.3" fill="#8c8c8c" stroke="#1a1a1a" stroke-width="0.7"/><path d="M234.96,523.3 C235.79,522.58 238.27,520.08 239.92,519 C241.57,517.92 243.23,517.13 244.88,516.8 C246.53,516.47 248.19,517.07 249.84,517 C251.49,516.93 253.15,516.15 254.8,516.4 C256.45,516.65 258.11,517.17 259.76,518.5 C261.41,519.83 263.07,523.28 264.72,524.4 C266.37,525.52 267.2,525.2 269.68,525.2 C272.16,525.2 276.29,524.4 279.6,524.4 C282.91,524.4 287.04,524.97 289.52,525.2 C292,525.43 292.83,525.52 294.48,525.8 C296.13,526.08 297.79,526.43 299.44,526.9 C301.09,527.37 302.75,528.07 304.4,528.6 C306.05,529.13 307.71,529.68 309.36,530.1 C311.01,530.52 312.67,530.58 314.32,531.1 C315.97,531.62 316.8,532.22 319.28,533.2 C321.76,534.18 325.89,535.77 329.2,537 C332.51,538.23 335.81,539.4 339.12,540.6 C342.43,541.8 345.73,542.62 349.04,544.2 C352.35,545.78 355.65,547.72 358.96,550.1 C362.27,552.48 365.57,555.85 368.88,558.5 C372.19,561.15 376.32,563.9 378.8,566 C381.28,568.1 382.11,567.78 383.76,571.1 C385.41,574.42 387.07,582.42 388.72,585.9 C390.37,589.38 392.03,590.08 393.68,592 C395.33,593.92 396.99,595.27 398.64,597.4 C400.29,599.53 402.77,603.57 403.6,604.8" fill="none" stroke="#858585" stroke-width="1.0"/><path d="M234.96,655.16 L237.44,651.12 L239.92,646.99 L242.4,642.79 L244.88,638.54 L247.36,634.23 L249.84,629.9 L252.32,625.54 L254.8,621.17 L257.28,616.79 L259.76,612.43 L262.24,608.08 L264.72,603.77 L267.2,599.49 L269.68,595.26 L272.16,591.09 L274.64,586.98 L277.12,582.94 L279.6,578.99 L282.08,575.12 L284.56,571.35 L287.04,567.69 L289.52,564.13 L292,560.69 L294.48,557.37 L296.96,554.18 L299.44,551.13 L301.92,548.21 L304.4,545.43 L306.88,542.81 L309.36,540.33 L311.84,538.01 L314.32,535.85 L316.8,533.85 L319.28,532.02 L321.76,530.35 L324.24,528.86 L326.72,527.54 L329.2,526.39 L331.68,525.41 L334.16,524.62 L336.64,524 L339.12,523.55 L341.6,523.29 L344.08,523.2 L346.56,523.29 L349.04,523.55 L351.52,523.99 L354,524.6 L356.48,525.39 L358.96,526.34 L361.44,527.46 L363.92,528.74 L366.4,530.19 L368.88,531.79 L371.36,533.54 L373.84,535.45 L376.32,537.5 L378.8,539.69 L381.28,542.02 L383.76,544.48 L386.24,547.07 L388.72,549.77 L391.2,552.59 L393.68,555.52 L396.16,558.54 L398.64,561.66 L401.12,564.87 L403.6,568.15" fill="none" stroke="#f39322" stroke-width="1.3" stroke-dasharray="4.2,2.6"/><path d="M234.96,600.2 L239.92,636 L244.88,669 L249.84,669 L254.8,660 L259.76,664.4 L264.72,659.6 L269.68,648 L274.64,650 L279.6,649.4 L284.56,654.3 L289.52,662.7 L294.48,661.2 L299.44,655.3 L304.4,650.7 L309.36,653.2 L314.32,652.2 L319.28,650.7 L324.24,654.3 L329.2,647.3 L334.16,644.8 L339.12,645.9 L344.08,652.2 L349.04,638.9 L354,651.6 L358.96,649 L363.92,637.9 L368.88,638.9 L373.84,649 L378.8,653 L383.76,656.4 L388.72,662.1 L393.68,664.8 L398.64,668 L403.6,670.1" fill="none" stroke="#2457b8" stroke-width="1.1" stroke-linejoin="round"/><path d="M234.96,578.5 L239.92,575.3 L244.88,604.4 L249.84,595.3 L254.8,596.8 L259.76,634.3 L264.72,609 L269.68,588 L274.64,577.9 L279.6,584.8 L284.56,592.6 L289.52,616.8 L294.48,613.2 L299.44,581.6 L304.4,579.5 L309.36,592.6 L314.32,589.7 L319.28,565.9 L324.24,592.6 L329.2,579.5 L334.16,554.3 L339.12,554.7 L344.08,591.8 L349.04,560.2 L354,553.9 L358.96,550.5 L363.92,540.8 L368.88,531.1 L373.84,521.6 L378.8,526.5 L383.76,538.5 L388.72,542.7 L393.68,539.5 L398.64,542.7 L403.6,542.3" fill="none" stroke="#e04238" stroke-width="1.0" stroke-linejoin="round"/></g><text x="228.3" y="506.6" font-size="15.5" text-anchor="start" font-weight="bold" fill="#000000">(g)</text><text x="253.6" y="506.6" font-size="11.2" text-anchor="start" font-weight="normal" fill="#000000" stroke="#000000" stroke-width="0.25">2013 <tspan font-size="8.6" dx="0.8" dy="-0.8">−</tspan><tspan dx="1.4" dy="0.8"> Nase</tspan></text><text x="226.5" y="547.4" font-size="11.4" text-anchor="start" font-weight="normal" fill="#959595" stroke="#959595" stroke-width="0.25">Z = 882.6 m</text><g clip-path="url(#cph)"><rect x="72.6" y="687.6" width="128.5" height="187.4" fill="#ebebeb"/><line x1="35.5" y1="732.5" x2="223.3" y2="732.5" stroke="#8a8a8a" stroke-width="1.1" stroke-dasharray="4.3,2.5"/><rect x="80.88" y="868.1" width="2.8" height="7.9" fill="#8c8c8c" stroke="#1a1a1a" stroke-width="0.7"/><rect x="85.84" y="863.5" width="2.8" height="12.5" fill="#8c8c8c" stroke="#1a1a1a" stroke-width="0.7"/><rect x="90.8" y="865.4" width="2.8" height="10.6" fill="#8c8c8c" stroke="#1a1a1a" stroke-width="0.7"/><rect x="95.76" y="845.6" width="2.8" height="30.4" fill="#8c8c8c" stroke="#1a1a1a" stroke-width="0.7"/><rect x="100.72" y="851.9" width="2.8" height="24.1" fill="#8c8c8c" stroke="#1a1a1a" stroke-width="0.7"/><rect x="105.68" y="874" width="2.8" height="2" fill="#8c8c8c" stroke="#1a1a1a" stroke-width="0.7"/><rect x="125.52" y="872.4" width="2.8" height="3.6" fill="#8c8c8c" stroke="#1a1a1a" stroke-width="0.7"/><rect x="130.48" y="850.2" width="2.8" height="25.8" fill="#8c8c8c" stroke="#1a1a1a" stroke-width="0.7"/><rect x="135.44" y="871.3" width="2.8" height="4.7" fill="#8c8c8c" stroke="#1a1a1a" stroke-width="0.7"/><rect x="140.4" y="861.2" width="2.8" height="14.8" fill="#8c8c8c" stroke="#1a1a1a" stroke-width="0.7"/><rect x="145.36" y="783.9" width="2.8" height="92.1" fill="#8c8c8c" stroke="#1a1a1a" stroke-width="0.7"/><rect x="150.32" y="822.5" width="2.8" height="53.5" fill="#8c8c8c" stroke="#1a1a1a" stroke-width="0.7"/><rect x="155.28" y="861.2" width="2.8" height="14.8" fill="#8c8c8c" stroke="#1a1a1a" stroke-width="0.7"/><rect x="160.24" y="871.3" width="2.8" height="4.7" fill="#8c8c8c" stroke="#1a1a1a" stroke-width="0.7"/><rect x="170.16" y="868.1" width="2.8" height="7.9" fill="#8c8c8c" stroke="#1a1a1a" stroke-width="0.7"/><rect x="180.08" y="873.5" width="2.8" height="2.5" fill="#8c8c8c" stroke="#1a1a1a" stroke-width="0.7"/><rect x="185.04" y="871.7" width="2.8" height="4.3" fill="#8c8c8c" stroke="#1a1a1a" stroke-width="0.7"/><rect x="194.96" y="871.3" width="2.8" height="4.7" fill="#8c8c8c" stroke="#1a1a1a" stroke-width="0.7"/><rect x="199.92" y="864.4" width="2.8" height="11.6" fill="#8c8c8c" stroke="#1a1a1a" stroke-width="0.7"/><path d="M47.56,714.9 C48.39,714.77 50.87,714.45 52.52,714.1 C54.17,713.75 55.83,713.15 57.48,712.8 C59.13,712.45 60.79,712.42 62.44,712 C64.09,711.58 65.75,710.07 67.4,710.3 C69.05,710.53 70.71,711.93 72.36,713.4 C74.01,714.87 75.67,718.4 77.32,719.1 C78.97,719.8 80.63,717.95 82.28,717.6 C83.93,717.25 85.59,717.17 87.24,717 C88.89,716.83 90.55,716.67 92.2,716.6 C93.85,716.53 95.51,716.5 97.16,716.6 C98.81,716.7 100.47,717.03 102.12,717.2 C103.77,717.37 105.43,718.05 107.08,717.6 C108.73,717.15 110.39,715.3 112.04,714.5 C113.69,713.7 115.35,713.3 117,712.8 C118.65,712.3 120.31,711.8 121.96,711.5 C123.61,711.2 125.58,711.07 126.92,711 C128.26,710.93 128.34,710.83 130,711.1 C131.65,711.37 134.53,711.92 136.84,712.6 C139.15,713.28 141.56,714.3 143.88,715.2 C146.21,716.1 148.48,717 150.78,718 C153.08,719 155.36,720.12 157.67,721.2 C159.99,722.28 162.35,723.42 164.67,724.5 C166.98,725.58 169.25,726.58 171.56,727.7 C173.87,728.82 176.18,730.03 178.5,731.2 C180.83,732.37 183.18,733.55 185.5,734.7 C187.81,735.85 190.54,737.18 192.39,738.1 C194.24,739.02 195.46,739.38 196.61,740.2 C197.76,741.02 197.67,741.27 199.29,743 C200.9,744.73 203.96,747.6 206.28,750.6 C208.6,753.6 211.6,758.57 213.22,761 C214.84,763.43 215.54,764.5 216,765.2" fill="none" stroke="#7c7c7c" stroke-width="1.1"/><path d="M47.56,853.51 L50.04,849.51 L52.52,845.43 L55,841.27 L57.48,837.04 L59.96,832.76 L62.44,828.44 L64.92,824.09 L67.4,819.73 L69.88,815.35 L72.36,810.98 L74.84,806.63 L77.32,802.29 L79.8,797.99 L82.28,793.74 L84.76,789.53 L87.24,785.39 L89.72,781.31 L92.2,777.31 L94.68,773.4 L97.16,769.58 L99.64,765.85 L102.12,762.24 L104.6,758.73 L107.08,755.35 L109.56,752.09 L112.04,748.96 L114.52,745.97 L117,743.11 L119.48,740.41 L121.96,737.85 L124.44,735.44 L126.92,733.2 L129.4,731.11 L131.88,729.19 L134.36,727.43 L136.84,725.85 L139.32,724.43 L141.8,723.19 L144.28,722.12 L146.76,721.23 L149.24,720.51 L151.72,719.97 L154.2,719.61 L156.68,719.43 L159.16,719.42 L161.64,719.59 L164.12,719.93 L166.6,720.45 L169.08,721.14 L171.56,722 L174.04,723.03 L176.52,724.23 L179,725.59 L181.48,727.1 L183.96,728.78 L186.44,730.6 L188.92,732.58 L191.4,734.69 L193.88,736.95 L196.36,739.34 L198.84,741.86 L201.32,744.5 L203.8,747.26 L206.28,750.13 L208.76,753.1 L211.24,756.17 L213.72,759.33 L216.2,762.57" fill="none" stroke="#f39322" stroke-width="1.3" stroke-dasharray="4.2,2.6"/><path d="M47.56,800.8 L52.52,824 L57.48,847.1 L62.44,859.8 L67.4,865 L72.36,859.8 L77.32,859.4 L82.28,859.4 L87.24,859.4 L92.2,859.4 L97.16,859.4 L102.12,853.5 L107.08,828.8 L112.04,859.4 L117,859.4 L121.96,859.4 L126.92,858.7 L131.88,856 L136.84,856 L141.8,853.5 L146.76,857.2 L151.72,849.2 L156.68,851.8 L161.64,853.5 L166.6,847.8 L171.56,852.8 L176.52,820.8 L181.48,822.9 L186.44,831 L191.4,838.7 L196.36,847 L201.32,856 L206.28,857.7 L211.24,860.8 L216.2,864" fill="none" stroke="#2457b8" stroke-width="1.1" stroke-linejoin="round"/><path d="M47.56,771.3 L52.52,765.6 L57.48,794.9 L62.44,800.4 L67.4,801.4 L72.36,787.1 L77.32,784 L82.28,773.9 L87.24,773.9 L92.2,767.8 L97.16,776 L102.12,773.4 L107.08,800.4 L112.04,800.4 L117,789.2 L121.96,789.9 L126.92,782.3 L131.88,770 L136.84,773 L141.8,770.3 L146.76,751.3 L151.72,754.9 L156.68,749.2 L161.64,750.7 L166.6,753.4 L171.56,749.2 L176.52,749.9 L181.48,758.3 L186.44,752 L191.4,750.7 L196.36,742.9 L201.32,729.6 L206.28,763.3 L211.24,740.8 L216.2,738.1" fill="none" stroke="#e04238" stroke-width="1.0" stroke-linejoin="round"/></g><text x="41.3" y="703.2" font-size="15.5" text-anchor="start" font-weight="bold" fill="#000000">(h)</text><text x="66.2" y="703.2" font-size="11.2" text-anchor="start" font-weight="normal" fill="#000000" stroke="#000000" stroke-width="0.25">2014 <tspan font-size="8.6" dx="0.8" dy="-0.8">−</tspan><tspan dx="1.4" dy="0.8"> Nase</tspan></text><text x="39.5" y="743.8" font-size="11.4" text-anchor="start" font-weight="normal" fill="#959595" stroke="#959595" stroke-width="0.25">Z = 882.6 m</text><g clip-path="url(#cpi)"><rect x="273.1" y="687.6" width="110.5" height="187.4" fill="#ebebeb"/><line x1="222.8" y1="732.5" x2="410.6" y2="732.5" stroke="#8a8a8a" stroke-width="1.1" stroke-dasharray="4.3,2.5"/><rect x="273.24" y="870.2" width="2.8" height="5.8" fill="#8c8c8c" stroke="#1a1a1a" stroke-width="0.7"/><rect x="278.2" y="870.9" width="2.8" height="5.1" fill="#8c8c8c" stroke="#1a1a1a" stroke-width="0.7"/><rect x="283.16" y="744.5" width="2.8" height="131.5" fill="#8c8c8c" stroke="#1a1a1a" stroke-width="0.7"/><rect x="288.12" y="813.4" width="2.8" height="62.6" fill="#8c8c8c" stroke="#1a1a1a" stroke-width="0.7"/><rect x="293.08" y="868.8" width="2.8" height="7.2" fill="#8c8c8c" stroke="#1a1a1a" stroke-width="0.7"/><rect x="303" y="870.7" width="2.8" height="5.3" fill="#8c8c8c" stroke="#1a1a1a" stroke-width="0.7"/><rect x="307.96" y="838" width="2.8" height="38" fill="#8c8c8c" stroke="#1a1a1a" stroke-width="0.7"/><rect x="312.92" y="872.8" width="2.8" height="3.2" fill="#8c8c8c" stroke="#1a1a1a" stroke-width="0.7"/><rect x="317.88" y="837.2" width="2.8" height="38.8" fill="#8c8c8c" stroke="#1a1a1a" stroke-width="0.7"/><rect x="322.84" y="873.4" width="2.8" height="2.6" fill="#8c8c8c" stroke="#1a1a1a" stroke-width="0.7"/><rect x="337.72" y="874" width="2.8" height="2" fill="#8c8c8c" stroke="#1a1a1a" stroke-width="0.7"/><rect x="342.68" y="868.1" width="2.8" height="7.9" fill="#8c8c8c" stroke="#1a1a1a" stroke-width="0.7"/><rect x="347.64" y="872.4" width="2.8" height="3.6" fill="#8c8c8c" stroke="#1a1a1a" stroke-width="0.7"/><rect x="352.6" y="873.5" width="2.8" height="2.5" fill="#8c8c8c" stroke="#1a1a1a" stroke-width="0.7"/><rect x="357.56" y="872.4" width="2.8" height="3.6" fill="#8c8c8c" stroke="#1a1a1a" stroke-width="0.7"/><rect x="362.52" y="871.3" width="2.8" height="4.7" fill="#8c8c8c" stroke="#1a1a1a" stroke-width="0.7"/><rect x="367.48" y="871.7" width="2.8" height="4.3" fill="#8c8c8c" stroke="#1a1a1a" stroke-width="0.7"/><rect x="372.44" y="873.5" width="2.8" height="2.5" fill="#8c8c8c" stroke="#1a1a1a" stroke-width="0.7"/><rect x="377.4" y="874" width="2.8" height="2" fill="#8c8c8c" stroke="#1a1a1a" stroke-width="0.7"/><rect x="382.36" y="874" width="2.8" height="2" fill="#8c8c8c" stroke="#1a1a1a" stroke-width="0.7"/><path d="M234.96,745.4 C235.79,744.88 238.27,743.07 239.92,742.3 C241.57,741.53 243.23,741.15 244.88,740.8 C246.53,740.45 248.19,741.08 249.84,740.2 C251.49,739.32 253.15,736.98 254.8,735.5 C256.45,734.02 258.11,732.35 259.76,731.3 C261.41,730.25 263.07,729.72 264.72,729.2 C266.37,728.68 268.03,728.48 269.68,728.2 C271.33,727.92 272.99,727.4 274.64,727.5 C276.29,727.6 277.95,728.23 279.6,728.8 C281.25,729.37 282.91,730.3 284.56,730.9 C286.21,731.5 287.87,731.98 289.52,732.4 C291.17,732.82 292.83,732.88 294.48,733.4 C296.13,733.92 297.79,734.72 299.44,735.5 C301.09,736.28 302.75,737.22 304.4,738.1 C306.05,738.98 307.71,739.75 309.36,740.8 C311.01,741.85 312.54,743.02 314.32,744.4 C316.1,745.78 317.96,747.65 320.02,749.1 C322.09,750.55 324.53,752.12 326.72,753.1 C328.91,754.08 331.02,754.35 333.17,755 C335.32,755.65 337.47,756.12 339.62,757 C341.77,757.88 343.83,758.98 346.06,760.3 C348.3,761.62 350.78,763.03 353.01,764.9 C355.24,766.77 357.31,769.1 359.46,771.5 C361.61,773.9 363.71,776.68 365.9,779.3 C368.09,781.92 370.37,784.57 372.6,787.2 C374.83,789.83 377.11,792.37 379.3,795.1 C381.49,797.83 383.59,800.87 385.74,803.6 C387.89,806.33 389.96,808.65 392.19,811.5 C394.42,814.35 397.23,817.52 399.14,820.7 C401.04,823.88 402.86,828.95 403.6,830.6" fill="none" stroke="#7c7c7c" stroke-width="1.1"/><path d="M234.96,853.05 L237.44,849.05 L239.92,844.95 L242.4,840.78 L244.88,836.55 L247.36,832.26 L249.84,827.94 L252.32,823.58 L254.8,819.22 L257.28,814.84 L259.76,810.47 L262.24,806.12 L264.72,801.79 L267.2,797.49 L269.68,793.24 L272.16,789.05 L274.64,784.91 L277.12,780.85 L279.6,776.86 L282.08,772.96 L284.56,769.15 L287.04,765.44 L289.52,761.84 L292,758.35 L294.48,754.99 L296.96,751.74 L299.44,748.63 L301.92,745.66 L304.4,742.83 L306.88,740.14 L309.36,737.6 L311.84,735.22 L314.32,733 L316.8,730.93 L319.28,729.03 L321.76,727.3 L324.24,725.74 L326.72,724.35 L329.2,723.13 L331.68,722.08 L334.16,721.22 L336.64,720.52 L339.12,720.01 L341.6,719.67 L344.08,719.51 L346.56,719.53 L349.04,719.73 L351.52,720.09 L354,720.64 L356.48,721.35 L358.96,722.24 L361.44,723.29 L363.92,724.51 L366.4,725.89 L368.88,727.43 L371.36,729.12 L373.84,730.97 L376.32,732.96 L378.8,735.1 L381.28,737.38 L383.76,739.78 L386.24,742.32 L388.72,744.98 L391.2,747.75 L393.68,750.64 L396.16,753.62 L398.64,756.7 L401.12,759.88 L403.6,763.13" fill="none" stroke="#f39322" stroke-width="1.3" stroke-dasharray="4.2,2.6"/><path d="M234.96,865.5 L239.92,865.5 L244.88,865.5 L249.84,834.1 L254.8,845 L259.76,853 L264.72,827.1 L269.68,859.4 L274.64,859.4 L279.6,854.5 L284.56,852.4 L289.52,836.6 L294.48,825.7 L299.44,829.2 L304.4,834.9 L309.36,837.7 L314.32,842.9 L319.28,847.6 L324.24,849.2 L329.2,790.7 L334.16,813.4 L339.12,821.9 L344.08,834.5 L349.04,839.8 L354,849.2 L358.96,862.9 L363.92,869.2 L368.88,866.5 L373.84,864.5 L378.8,862.5 L383.76,864 L388.72,873.5 L393.68,874 L398.64,874 L403.6,874.5" fill="none" stroke="#2457b8" stroke-width="1.1" stroke-linejoin="round"/><path d="M234.96,780.2 L239.92,796.2 L244.88,793.4 L249.84,785.7 L254.8,794.9 L259.76,785.7 L264.72,768.8 L269.68,783.5 L274.64,772 L279.6,758.7 L284.56,762.5 L289.52,761.9 L294.48,774.5 L299.44,770.3 L304.4,766.7 L309.36,753.4 L314.32,747 L319.28,743 L324.24,741.4 L329.2,757.6 L334.16,777.2 L339.12,767.5 L344.08,752 L349.04,739.3 L354,738.1 L358.96,729.9 L363.92,724.6 L368.88,730.3 L373.84,734.5 L378.8,738.7 L383.76,734.9 L388.72,734.5 L393.68,734.5 L398.64,729.2 L403.6,743.5" fill="none" stroke="#e04238" stroke-width="1.0" stroke-linejoin="round"/></g><text x="228.3" y="702.8" font-size="15.5" text-anchor="start" font-weight="bold" fill="#000000">(i)</text><text x="248.9" y="702.8" font-size="11.2" text-anchor="start" font-weight="normal" fill="#000000" stroke="#000000" stroke-width="0.25">2015 <tspan font-size="8.6" dx="0.8" dy="-0.8">−</tspan><tspan dx="1.4" dy="0.8"> Nase</tspan></text><g clip-path="url(#cpj)"><rect x="422.2" y="687.6" width="153.7" height="187.4" fill="#ebebeb"/><line x1="410.1" y1="732.5" x2="597.9" y2="732.5" stroke="#8a8a8a" stroke-width="1.1" stroke-dasharray="4.3,2.5"/><rect x="500.32" y="873.5" width="2.8" height="2.5" fill="#8c8c8c" stroke="#1a1a1a" stroke-width="0.7"/><rect x="505.28" y="873.5" width="2.8" height="2.5" fill="#8c8c8c" stroke="#1a1a1a" stroke-width="0.7"/><rect x="510.24" y="803.5" width="2.8" height="72.5" fill="#8c8c8c" stroke="#1a1a1a" stroke-width="0.7"/><rect x="515.2" y="814.4" width="2.8" height="61.6" fill="#8c8c8c" stroke="#1a1a1a" stroke-width="0.7"/><rect x="520.16" y="845" width="2.8" height="31" fill="#8c8c8c" stroke="#1a1a1a" stroke-width="0.7"/><rect x="530.08" y="871.9" width="2.8" height="4.1" fill="#8c8c8c" stroke="#1a1a1a" stroke-width="0.7"/><rect x="535.04" y="847.1" width="2.8" height="28.9" fill="#8c8c8c" stroke="#1a1a1a" stroke-width="0.7"/><rect x="540" y="797.6" width="2.8" height="78.4" fill="#8c8c8c" stroke="#1a1a1a" stroke-width="0.7"/><rect x="544.96" y="869.2" width="2.8" height="6.8" fill="#8c8c8c" stroke="#1a1a1a" stroke-width="0.7"/><rect x="549.92" y="862.9" width="2.8" height="13.1" fill="#8c8c8c" stroke="#1a1a1a" stroke-width="0.7"/><rect x="554.88" y="867.1" width="2.8" height="8.9" fill="#8c8c8c" stroke="#1a1a1a" stroke-width="0.7"/><rect x="559.84" y="871.3" width="2.8" height="4.7" fill="#8c8c8c" stroke="#1a1a1a" stroke-width="0.7"/><rect x="564.8" y="867.5" width="2.8" height="8.5" fill="#8c8c8c" stroke="#1a1a1a" stroke-width="0.7"/><rect x="569.76" y="871.3" width="2.8" height="4.7" fill="#8c8c8c" stroke="#1a1a1a" stroke-width="0.7"/><rect x="574.72" y="873.5" width="2.8" height="2.5" fill="#8c8c8c" stroke="#1a1a1a" stroke-width="0.7"/><path d="M422.36,735.4 C423.19,733.5 425.75,727.78 427.32,724 C428.89,720.22 430.13,714.62 431.78,712.7 C433.44,710.78 435.5,712.62 437.24,712.5 C438.98,712.38 440.55,711.67 442.2,712 C443.85,712.33 445.51,713.63 447.16,714.5 C448.81,715.37 450.47,717.28 452.12,717.2 C453.77,717.12 455.43,715.45 457.08,714 C458.73,712.55 460.39,709.57 462.04,708.5 C463.69,707.43 465.35,707.35 467,707.6 C468.65,707.85 470.31,709.85 471.96,710 C473.61,710.15 475.27,708.88 476.92,708.5 C478.57,708.12 479.7,707.78 481.88,707.7 C484.06,707.62 487.37,708.18 490.01,708 C492.66,707.82 495.14,707.03 497.75,706.6 C500.36,706.17 503.04,705.57 505.69,705.4 C508.33,705.23 510.98,705.3 513.62,705.6 C516.27,705.9 518.91,706.5 521.56,707.2 C524.21,707.9 526.85,708.58 529.5,709.8 C532.14,711.02 534.79,712.8 537.43,714.5 C540.08,716.2 542.72,718.03 545.37,720 C548.01,721.97 550.74,724.12 553.3,726.3 C555.87,728.48 558.18,730.78 560.74,733.1 C563.31,735.42 566.03,737.95 568.68,740.2 C571.33,742.45 573.97,744.47 576.62,746.6 C579.26,748.73 582.24,751.03 584.55,753 C586.87,754.97 589.51,757.5 590.5,758.4" fill="none" stroke="#7c7c7c" stroke-width="1.1"/><path d="M422.36,850.96 L424.84,846.9 L427.32,842.76 L429.8,838.55 L432.28,834.28 L434.76,829.97 L437.24,825.63 L439.72,821.26 L442.2,816.89 L444.68,812.52 L447.16,808.16 L449.64,803.82 L452.12,799.51 L454.6,795.24 L457.08,791.02 L459.56,786.86 L462.04,782.76 L464.52,778.74 L467,774.81 L469.48,770.96 L471.96,767.21 L474.44,763.57 L476.92,760.03 L479.4,756.62 L481.88,753.33 L484.36,750.16 L486.84,747.13 L489.32,744.24 L491.8,741.5 L494.28,738.9 L496.76,736.45 L499.24,734.17 L501.72,732.04 L504.2,730.07 L506.68,728.27 L509.16,726.64 L511.64,725.18 L514.12,723.89 L516.6,722.78 L519.08,721.84 L521.56,721.08 L524.04,720.49 L526.52,720.09 L529,719.86 L531.48,719.8 L533.96,719.93 L536.44,720.23 L538.92,720.7 L541.4,721.35 L543.88,722.16 L546.36,723.15 L548.84,724.3 L551.32,725.62 L553.8,727.09 L556.28,728.73 L558.76,730.51 L561.24,732.45 L563.72,734.53 L566.2,736.75 L568.68,739.11 L571.16,741.59 L573.64,744.2 L576.12,746.93 L578.6,749.77 L581.08,752.72 L583.56,755.76 L586.04,758.9 L588.52,762.12 L591,765.41" fill="none" stroke="#f39322" stroke-width="1.3" stroke-dasharray="4.2,2.6"/><path d="M422.36,154 L427.32,354 L432.28,654 L437.24,758 L442.2,786 L447.16,812 L452.12,839.5 L457.08,459 L462.04,254 L467,354 L471.96,678 L476.92,721 L481.88,764 L486.84,805 L491.8,810 L496.76,822 L501.72,859.4 L506.68,859.4 L511.64,859.4 L516.6,859.4 L521.56,859.4 L526.52,859.4 L531.48,859.4 L536.44,859.4 L541.4,859.4 L546.36,863 L551.32,865.5 L556.28,865.5 L561.24,865.5 L566.2,865.5 L571.16,848.8 L576.12,851.4 L581.08,857.7 L586.04,860.2 L591,865" fill="none" stroke="#2457b8" stroke-width="1.1" stroke-linejoin="round"/><path d="M422.36,793 L427.32,788.4 L432.28,797.7 L437.24,814.9 L442.2,807.2 L447.16,809.8 L452.12,805 L457.08,800.3 L462.04,826.5 L467,828.8 L471.96,814.2 L476.92,805 L481.88,795 L486.84,797 L491.8,792.1 L496.76,794.4 L501.72,784 L506.68,772 L511.64,764 L516.6,756.6 L521.56,757 L526.52,777.6 L531.48,768.8 L536.44,746.1 L541.4,741.9 L546.36,733.5 L551.32,730.3 L556.28,729.9 L561.24,730.5 L566.2,726.5 L571.16,733 L576.12,732.4 L581.08,721.8 L586.04,745 L591,728.2" fill="none" stroke="#e04238" stroke-width="1.0" stroke-linejoin="round"/></g><text x="415.3" y="702.8" font-size="15.5" text-anchor="start" font-weight="bold" fill="#000000">(j)</text><text x="436.1" y="702.8" font-size="11.2" text-anchor="start" font-weight="normal" fill="#000000" stroke="#000000" stroke-width="0.25">2016 <tspan font-size="8.6" dx="0.8" dy="-0.8">−</tspan><tspan dx="1.4" dy="0.8"> Nase</tspan></text><line x1="36" y1="36.35" x2="36" y2="225.15" stroke="#4a4a4a" stroke-width="1.3"/><line x1="32.6" y1="37" x2="410.6" y2="37" stroke="#4a4a4a" stroke-width="1.3"/><line x1="32.6" y1="224.5" x2="410.6" y2="224.5" stroke="#4a4a4a" stroke-width="1.3"/><line x1="223.3" y1="37" x2="223.3" y2="224.5" stroke="#4a4a4a" stroke-width="1.3"/><line x1="410.6" y1="36.35" x2="410.6" y2="225.15" stroke="#4a4a4a" stroke-width="1.3"/><line x1="32.6" y1="224.5" x2="36" y2="224.5" stroke="#4a4a4a" stroke-width="1.3"/><text transform="translate(30,224.1) scale(0.86,1)" font-size="12.4" text-anchor="end" fill="#000000" stroke="#000000" stroke-width="0.1">0.0</text><line x1="32.6" y1="193.25" x2="36" y2="193.25" stroke="#4a4a4a" stroke-width="1.3"/><text transform="translate(30,196.85) scale(0.86,1)" font-size="12.4" text-anchor="end" fill="#000000" stroke="#000000" stroke-width="0.1">0.1</text><line x1="32.6" y1="162" x2="36" y2="162" stroke="#4a4a4a" stroke-width="1.3"/><text transform="translate(30,165.6) scale(0.86,1)" font-size="12.4" text-anchor="end" fill="#000000" stroke="#000000" stroke-width="0.1">0.2</text><line x1="32.6" y1="130.75" x2="36" y2="130.75" stroke="#4a4a4a" stroke-width="1.3"/><text transform="translate(30,134.35) scale(0.86,1)" font-size="12.4" text-anchor="end" fill="#000000" stroke="#000000" stroke-width="0.1">0.3</text><line x1="32.6" y1="99.5" x2="36" y2="99.5" stroke="#4a4a4a" stroke-width="1.3"/><text transform="translate(30,103.1) scale(0.86,1)" font-size="12.4" text-anchor="end" fill="#000000" stroke="#000000" stroke-width="0.1">0.4</text><line x1="32.6" y1="68.25" x2="36" y2="68.25" stroke="#4a4a4a" stroke-width="1.3"/><text transform="translate(30,71.85) scale(0.86,1)" font-size="12.4" text-anchor="end" fill="#000000" stroke="#000000" stroke-width="0.1">0.5</text><line x1="32.6" y1="37" x2="36" y2="37" stroke="#4a4a4a" stroke-width="1.3"/><text transform="translate(30,40.6) scale(0.86,1)" font-size="12.4" text-anchor="end" fill="#000000" stroke="#000000" stroke-width="0.1">0.6</text><text transform="translate(9.6,130.75) rotate(-90)" font-size="11.1" text-anchor="middle" fill="#000000" stroke="#000000" stroke-width="0.25">Fish proportion</text><line x1="410.6" y1="224.5" x2="414.1" y2="224.5" stroke="#4a4a4a" stroke-width="1.3"/><text transform="translate(419,228.1) scale(0.86,1)" font-size="12.4" text-anchor="start" fill="#000000" stroke="#000000" stroke-width="0.1">0</text><line x1="410.6" y1="193.25" x2="414.1" y2="193.25" stroke="#4a4a4a" stroke-width="1.3"/><text transform="translate(419,196.85) scale(0.86,1)" font-size="12.4" text-anchor="start" fill="#000000" stroke="#000000" stroke-width="0.1">5</text><line x1="410.6" y1="162" x2="414.1" y2="162" stroke="#4a4a4a" stroke-width="1.3"/><text transform="translate(417.2,165.6) scale(0.86,1)" font-size="12.4" text-anchor="start" fill="#000000" stroke="#000000" stroke-width="0.1">10</text><line x1="410.6" y1="130.75" x2="414.1" y2="130.75" stroke="#4a4a4a" stroke-width="1.3"/><text transform="translate(417.2,134.35) scale(0.86,1)" font-size="12.4" text-anchor="start" fill="#000000" stroke="#000000" stroke-width="0.1">15</text><line x1="410.6" y1="99.5" x2="414.1" y2="99.5" stroke="#4a4a4a" stroke-width="1.3"/><text transform="translate(417.2,103.1) scale(0.86,1)" font-size="12.4" text-anchor="start" fill="#000000" stroke="#000000" stroke-width="0.1">20</text><line x1="410.6" y1="68.25" x2="414.1" y2="68.25" stroke="#4a4a4a" stroke-width="1.3"/><text transform="translate(417.2,71.85) scale(0.86,1)" font-size="12.4" text-anchor="start" fill="#000000" stroke="#000000" stroke-width="0.1">25</text><line x1="410.6" y1="37" x2="414.1" y2="37" stroke="#4a4a4a" stroke-width="1.3"/><text transform="translate(417.2,40.6) scale(0.86,1)" font-size="12.4" text-anchor="start" fill="#000000" stroke="#000000" stroke-width="0.1">30</text><line x1="469.8" y1="36.35" x2="469.8" y2="225.15" stroke="#4a4a4a" stroke-width="1.3"/><line x1="451.2" y1="37" x2="473.2" y2="37" stroke="#4a4a4a" stroke-width="1.3"/><line x1="451.2" y1="224.5" x2="473.2" y2="224.5" stroke="#4a4a4a" stroke-width="1.3"/><line x1="466.2" y1="55.75" x2="469.8" y2="55.75" stroke="#4a4a4a" stroke-width="1.3"/><text x="464.5" y="60.15" font-size="11.3" text-anchor="end" font-weight="normal" fill="#000000" stroke="#000000" stroke-width="0.25">884</text><line x1="466.2" y1="93.25" x2="469.8" y2="93.25" stroke="#4a4a4a" stroke-width="1.3"/><text x="464.5" y="97.65" font-size="11.3" text-anchor="end" font-weight="normal" fill="#000000" stroke="#000000" stroke-width="0.25">882</text><line x1="466.2" y1="130.75" x2="469.8" y2="130.75" stroke="#4a4a4a" stroke-width="1.3"/><text x="464.5" y="135.15" font-size="11.3" text-anchor="end" font-weight="normal" fill="#000000" stroke="#000000" stroke-width="0.25">880</text><line x1="466.2" y1="168.25" x2="469.8" y2="168.25" stroke="#4a4a4a" stroke-width="1.3"/><text x="464.5" y="172.65" font-size="11.3" text-anchor="end" font-weight="normal" fill="#000000" stroke="#000000" stroke-width="0.25">878</text><line x1="466.2" y1="205.75" x2="469.8" y2="205.75" stroke="#4a4a4a" stroke-width="1.3"/><text x="464.5" y="210.15" font-size="11.3" text-anchor="end" font-weight="normal" fill="#000000" stroke="#000000" stroke-width="0.25">876</text><line x1="469.8" y1="37" x2="473.2" y2="37" stroke="#4a4a4a" stroke-width="1.3"/><text x="474.8" y="40.9" font-size="11.7" text-anchor="start" font-weight="normal" fill="#000000" stroke="#000000" stroke-width="0.25">15.5</text><line x1="469.8" y1="74.5" x2="473.2" y2="74.5" stroke="#4a4a4a" stroke-width="1.3"/><text x="474.8" y="78.4" font-size="11.7" text-anchor="start" font-weight="normal" fill="#000000" stroke="#000000" stroke-width="0.25">15.0</text><line x1="469.8" y1="112" x2="473.2" y2="112" stroke="#4a4a4a" stroke-width="1.3"/><text x="474.8" y="115.9" font-size="11.7" text-anchor="start" font-weight="normal" fill="#000000" stroke="#000000" stroke-width="0.25">14.5</text><line x1="469.8" y1="149.5" x2="473.2" y2="149.5" stroke="#4a4a4a" stroke-width="1.3"/><text x="474.8" y="153.4" font-size="11.7" text-anchor="start" font-weight="normal" fill="#000000" stroke="#000000" stroke-width="0.25">14.0</text><line x1="469.8" y1="187" x2="473.2" y2="187" stroke="#4a4a4a" stroke-width="1.3"/><text x="474.8" y="190.9" font-size="11.7" text-anchor="start" font-weight="normal" fill="#000000" stroke="#000000" stroke-width="0.25">13.5</text><line x1="469.8" y1="224.5" x2="473.2" y2="224.5" stroke="#4a4a4a" stroke-width="1.3"/><text x="474.8" y="228.4" font-size="11.7" text-anchor="start" font-weight="normal" fill="#000000" stroke="#000000" stroke-width="0.25">13.0</text><text x="407.3" y="10.5" font-size="11.2" text-anchor="start" font-weight="normal" fill="#000000" stroke="#000000" stroke-width="0.25">T (ºC)</text><text x="401.2" y="25" font-size="11.2" text-anchor="start" font-weight="normal" fill="#000000" stroke="#000000" stroke-width="0.25">Q (m<tspan font-size="6.5" dy="-4.2">3</tspan><tspan dy="4.2">/s)</tspan></text><text x="444.5" y="25" font-size="11.2" text-anchor="start" font-weight="normal" fill="#000000" stroke="#000000" stroke-width="0.25">Z (m)</text><text x="474.5" y="25" font-size="11.2" text-anchor="start" font-weight="normal" fill="#000000" stroke="#000000" stroke-width="0.25">P (h)</text><line x1="74.4" y1="33.4" x2="74.4" y2="37" stroke="#4a4a4a" stroke-width="1.3"/><line x1="125.4" y1="33.4" x2="125.4" y2="37" stroke="#4a4a4a" stroke-width="1.3"/><line x1="174.7" y1="33.4" x2="174.7" y2="37" stroke="#4a4a4a" stroke-width="1.3"/><text x="55.7" y="31.3" font-size="11.2" text-anchor="middle" font-weight="normal" fill="#000000" stroke="#000000" stroke-width="0.25">ABR</text><text x="100" y="31.3" font-size="11.2" text-anchor="middle" font-weight="normal" fill="#000000" stroke="#000000" stroke-width="0.25">MAY</text><text x="151.1" y="31.3" font-size="11.2" text-anchor="middle" font-weight="normal" fill="#000000" stroke="#000000" stroke-width="0.25">JUN</text><text x="200.8" y="31.3" font-size="11.2" text-anchor="middle" font-weight="normal" fill="#000000" stroke="#000000" stroke-width="0.25">JUL</text><line x1="261.7" y1="33.4" x2="261.7" y2="37" stroke="#4a4a4a" stroke-width="1.3"/><line x1="312.7" y1="33.4" x2="312.7" y2="37" stroke="#4a4a4a" stroke-width="1.3"/><line x1="362" y1="33.4" x2="362" y2="37" stroke="#4a4a4a" stroke-width="1.3"/><text x="243" y="31.3" font-size="11.2" text-anchor="middle" font-weight="normal" fill="#000000" stroke="#000000" stroke-width="0.25">ABR</text><text x="287.3" y="31.3" font-size="11.2" text-anchor="middle" font-weight="normal" fill="#000000" stroke="#000000" stroke-width="0.25">MAY</text><text x="338.4" y="31.3" font-size="11.2" text-anchor="middle" font-weight="normal" fill="#000000" stroke="#000000" stroke-width="0.25">JUN</text><text x="388.1" y="31.3" font-size="11.2" text-anchor="middle" font-weight="normal" fill="#000000" stroke="#000000" stroke-width="0.25">JUL</text><line x1="36" y1="232.85" x2="36" y2="421.65" stroke="#4a4a4a" stroke-width="1.3"/><line x1="32.6" y1="233.5" x2="597.9" y2="233.5" stroke="#4a4a4a" stroke-width="1.3"/><line x1="32.6" y1="421" x2="597.9" y2="421" stroke="#4a4a4a" stroke-width="1.3"/><line x1="223.3" y1="233.5" x2="223.3" y2="421" stroke="#4a4a4a" stroke-width="1.3"/><line x1="410.6" y1="233.5" x2="410.6" y2="421" stroke="#4a4a4a" stroke-width="1.3"/><line x1="597.9" y1="232.85" x2="597.9" y2="421.65" stroke="#4a4a4a" stroke-width="1.3"/><line x1="32.6" y1="421" x2="36" y2="421" stroke="#4a4a4a" stroke-width="1.3"/><text transform="translate(30,420.6) scale(0.86,1)" font-size="12.4" text-anchor="end" fill="#000000" stroke="#000000" stroke-width="0.1">0.0</text><line x1="32.6" y1="389.75" x2="36" y2="389.75" stroke="#4a4a4a" stroke-width="1.3"/><text transform="translate(30,393.35) scale(0.86,1)" font-size="12.4" text-anchor="end" fill="#000000" stroke="#000000" stroke-width="0.1">0.1</text><line x1="32.6" y1="358.5" x2="36" y2="358.5" stroke="#4a4a4a" stroke-width="1.3"/><text transform="translate(30,362.1) scale(0.86,1)" font-size="12.4" text-anchor="end" fill="#000000" stroke="#000000" stroke-width="0.1">0.2</text><line x1="32.6" y1="327.25" x2="36" y2="327.25" stroke="#4a4a4a" stroke-width="1.3"/><text transform="translate(30,330.85) scale(0.86,1)" font-size="12.4" text-anchor="end" fill="#000000" stroke="#000000" stroke-width="0.1">0.3</text><line x1="32.6" y1="296" x2="36" y2="296" stroke="#4a4a4a" stroke-width="1.3"/><text transform="translate(30,299.6) scale(0.86,1)" font-size="12.4" text-anchor="end" fill="#000000" stroke="#000000" stroke-width="0.1">0.4</text><line x1="32.6" y1="264.75" x2="36" y2="264.75" stroke="#4a4a4a" stroke-width="1.3"/><text transform="translate(30,268.35) scale(0.86,1)" font-size="12.4" text-anchor="end" fill="#000000" stroke="#000000" stroke-width="0.1">0.5</text><line x1="32.6" y1="233.5" x2="36" y2="233.5" stroke="#4a4a4a" stroke-width="1.3"/><text transform="translate(30,237.1) scale(0.86,1)" font-size="12.4" text-anchor="end" fill="#000000" stroke="#000000" stroke-width="0.1">0.6</text><text transform="translate(9.6,327.25) rotate(-90)" font-size="11.1" text-anchor="middle" fill="#000000" stroke="#000000" stroke-width="0.25">Fish proportion</text><line x1="597.9" y1="421" x2="601.4" y2="421" stroke="#4a4a4a" stroke-width="1.3"/><text transform="translate(606.3,424.6) scale(0.86,1)" font-size="12.4" text-anchor="start" fill="#000000" stroke="#000000" stroke-width="0.1">0</text><line x1="597.9" y1="389.75" x2="601.4" y2="389.75" stroke="#4a4a4a" stroke-width="1.3"/><text transform="translate(606.3,393.35) scale(0.86,1)" font-size="12.4" text-anchor="start" fill="#000000" stroke="#000000" stroke-width="0.1">5</text><line x1="597.9" y1="358.5" x2="601.4" y2="358.5" stroke="#4a4a4a" stroke-width="1.3"/><text transform="translate(604.5,362.1) scale(0.86,1)" font-size="12.4" text-anchor="start" fill="#000000" stroke="#000000" stroke-width="0.1">10</text><line x1="597.9" y1="327.25" x2="601.4" y2="327.25" stroke="#4a4a4a" stroke-width="1.3"/><text transform="translate(604.5,330.85) scale(0.86,1)" font-size="12.4" text-anchor="start" fill="#000000" stroke="#000000" stroke-width="0.1">15</text><line x1="597.9" y1="296" x2="601.4" y2="296" stroke="#4a4a4a" stroke-width="1.3"/><text transform="translate(604.5,299.6) scale(0.86,1)" font-size="12.4" text-anchor="start" fill="#000000" stroke="#000000" stroke-width="0.1">20</text><line x1="597.9" y1="264.75" x2="601.4" y2="264.75" stroke="#4a4a4a" stroke-width="1.3"/><text transform="translate(604.5,268.35) scale(0.86,1)" font-size="12.4" text-anchor="start" fill="#000000" stroke="#000000" stroke-width="0.1">25</text><line x1="597.9" y1="233.5" x2="601.4" y2="233.5" stroke="#4a4a4a" stroke-width="1.3"/><text transform="translate(604.5,237.1) scale(0.86,1)" font-size="12.4" text-anchor="start" fill="#000000" stroke="#000000" stroke-width="0.1">30</text><line x1="657.1" y1="232.85" x2="657.1" y2="421.65" stroke="#4a4a4a" stroke-width="1.3"/><line x1="638.5" y1="233.5" x2="660.5" y2="233.5" stroke="#4a4a4a" stroke-width="1.3"/><line x1="638.5" y1="421" x2="660.5" y2="421" stroke="#4a4a4a" stroke-width="1.3"/><line x1="653.5" y1="252.25" x2="657.1" y2="252.25" stroke="#4a4a4a" stroke-width="1.3"/><text x="651.8" y="256.65" font-size="11.3" text-anchor="end" font-weight="normal" fill="#000000" stroke="#000000" stroke-width="0.25">884</text><line x1="653.5" y1="289.75" x2="657.1" y2="289.75" stroke="#4a4a4a" stroke-width="1.3"/><text x="651.8" y="294.15" font-size="11.3" text-anchor="end" font-weight="normal" fill="#000000" stroke="#000000" stroke-width="0.25">882</text><line x1="653.5" y1="327.25" x2="657.1" y2="327.25" stroke="#4a4a4a" stroke-width="1.3"/><text x="651.8" y="331.65" font-size="11.3" text-anchor="end" font-weight="normal" fill="#000000" stroke="#000000" stroke-width="0.25">880</text><line x1="653.5" y1="364.75" x2="657.1" y2="364.75" stroke="#4a4a4a" stroke-width="1.3"/><text x="651.8" y="369.15" font-size="11.3" text-anchor="end" font-weight="normal" fill="#000000" stroke="#000000" stroke-width="0.25">878</text><line x1="653.5" y1="402.25" x2="657.1" y2="402.25" stroke="#4a4a4a" stroke-width="1.3"/><text x="651.8" y="406.65" font-size="11.3" text-anchor="end" font-weight="normal" fill="#000000" stroke="#000000" stroke-width="0.25">876</text><line x1="657.1" y1="233.5" x2="660.5" y2="233.5" stroke="#4a4a4a" stroke-width="1.3"/><text x="662.1" y="237.4" font-size="11.7" text-anchor="start" font-weight="normal" fill="#000000" stroke="#000000" stroke-width="0.25">15.5</text><line x1="657.1" y1="271" x2="660.5" y2="271" stroke="#4a4a4a" stroke-width="1.3"/><text x="662.1" y="274.9" font-size="11.7" text-anchor="start" font-weight="normal" fill="#000000" stroke="#000000" stroke-width="0.25">15.0</text><line x1="657.1" y1="308.5" x2="660.5" y2="308.5" stroke="#4a4a4a" stroke-width="1.3"/><text x="662.1" y="312.4" font-size="11.7" text-anchor="start" font-weight="normal" fill="#000000" stroke="#000000" stroke-width="0.25">14.5</text><line x1="657.1" y1="346" x2="660.5" y2="346" stroke="#4a4a4a" stroke-width="1.3"/><text x="662.1" y="349.9" font-size="11.7" text-anchor="start" font-weight="normal" fill="#000000" stroke="#000000" stroke-width="0.25">14.0</text><line x1="657.1" y1="383.5" x2="660.5" y2="383.5" stroke="#4a4a4a" stroke-width="1.3"/><text x="662.1" y="387.4" font-size="11.7" text-anchor="start" font-weight="normal" fill="#000000" stroke="#000000" stroke-width="0.25">13.5</text><line x1="657.1" y1="421" x2="660.5" y2="421" stroke="#4a4a4a" stroke-width="1.3"/><text x="662.1" y="424.9" font-size="11.7" text-anchor="start" font-weight="normal" fill="#000000" stroke="#000000" stroke-width="0.25">13.0</text><text x="594.6" y="207" font-size="11.2" text-anchor="start" font-weight="normal" fill="#000000" stroke="#000000" stroke-width="0.25">T (ºC)</text><text x="588.5" y="221.5" font-size="11.2" text-anchor="start" font-weight="normal" fill="#000000" stroke="#000000" stroke-width="0.25">Q (m<tspan font-size="6.5" dy="-4.2">3</tspan><tspan dy="4.2">/s)</tspan></text><text x="631.8" y="221.5" font-size="11.2" text-anchor="start" font-weight="normal" fill="#000000" stroke="#000000" stroke-width="0.25">Z (m)</text><text x="661.8" y="221.5" font-size="11.2" text-anchor="start" font-weight="normal" fill="#000000" stroke="#000000" stroke-width="0.25">P (h)</text><line x1="42.6" y1="421" x2="42.6" y2="424.4" stroke="#4a4a4a" stroke-width="1.3"/><text transform="translate(42.8,435.3) scale(0.86,1)" font-size="12.4" text-anchor="middle" fill="#000000" stroke="#000000" stroke-width="0.1">0</text><line x1="67.4" y1="421" x2="67.4" y2="424.4" stroke="#4a4a4a" stroke-width="1.3"/><text transform="translate(67.6,435.3) scale(0.86,1)" font-size="12.4" text-anchor="middle" fill="#000000" stroke="#000000" stroke-width="0.1">5</text><line x1="92.2" y1="421" x2="92.2" y2="424.4" stroke="#4a4a4a" stroke-width="1.3"/><text transform="translate(92.4,435.3) scale(0.86,1)" font-size="12.4" text-anchor="middle" fill="#000000" stroke="#000000" stroke-width="0.1">10</text><line x1="117" y1="421" x2="117" y2="424.4" stroke="#4a4a4a" stroke-width="1.3"/><text transform="translate(117.2,435.3) scale(0.86,1)" font-size="12.4" text-anchor="middle" fill="#000000" stroke="#000000" stroke-width="0.1">15</text><line x1="141.8" y1="421" x2="141.8" y2="424.4" stroke="#4a4a4a" stroke-width="1.3"/><text transform="translate(142,435.3) scale(0.86,1)" font-size="12.4" text-anchor="middle" fill="#000000" stroke="#000000" stroke-width="0.1">20</text><line x1="166.6" y1="421" x2="166.6" y2="424.4" stroke="#4a4a4a" stroke-width="1.3"/><text transform="translate(166.8,435.3) scale(0.86,1)" font-size="12.4" text-anchor="middle" fill="#000000" stroke="#000000" stroke-width="0.1">25</text><line x1="191.4" y1="421" x2="191.4" y2="424.4" stroke="#4a4a4a" stroke-width="1.3"/><text transform="translate(191.6,435.3) scale(0.86,1)" font-size="12.4" text-anchor="middle" fill="#000000" stroke="#000000" stroke-width="0.1">30</text><line x1="216.2" y1="421" x2="216.2" y2="424.4" stroke="#4a4a4a" stroke-width="1.3"/><text transform="translate(216.4,435.3) scale(0.86,1)" font-size="12.4" text-anchor="middle" fill="#000000" stroke="#000000" stroke-width="0.1">35</text><text x="132.3" y="449.5" font-size="10.3" text-anchor="middle" font-weight="normal" fill="#000000" stroke="#000000" stroke-width="0.25">Time (3-day periods)</text><line x1="230" y1="421" x2="230" y2="424.4" stroke="#4a4a4a" stroke-width="1.3"/><text transform="translate(230.2,435.3) scale(0.86,1)" font-size="12.4" text-anchor="middle" fill="#000000" stroke="#000000" stroke-width="0.1">0</text><line x1="254.8" y1="421" x2="254.8" y2="424.4" stroke="#4a4a4a" stroke-width="1.3"/><text transform="translate(255,435.3) scale(0.86,1)" font-size="12.4" text-anchor="middle" fill="#000000" stroke="#000000" stroke-width="0.1">5</text><line x1="279.6" y1="421" x2="279.6" y2="424.4" stroke="#4a4a4a" stroke-width="1.3"/><text transform="translate(279.8,435.3) scale(0.86,1)" font-size="12.4" text-anchor="middle" fill="#000000" stroke="#000000" stroke-width="0.1">10</text><line x1="304.4" y1="421" x2="304.4" y2="424.4" stroke="#4a4a4a" stroke-width="1.3"/><text transform="translate(304.6,435.3) scale(0.86,1)" font-size="12.4" text-anchor="middle" fill="#000000" stroke="#000000" stroke-width="0.1">15</text><line x1="329.2" y1="421" x2="329.2" y2="424.4" stroke="#4a4a4a" stroke-width="1.3"/><text transform="translate(329.4,435.3) scale(0.86,1)" font-size="12.4" text-anchor="middle" fill="#000000" stroke="#000000" stroke-width="0.1">20</text><line x1="354" y1="421" x2="354" y2="424.4" stroke="#4a4a4a" stroke-width="1.3"/><text transform="translate(354.2,435.3) scale(0.86,1)" font-size="12.4" text-anchor="middle" fill="#000000" stroke="#000000" stroke-width="0.1">25</text><line x1="378.8" y1="421" x2="378.8" y2="424.4" stroke="#4a4a4a" stroke-width="1.3"/><text transform="translate(379,435.3) scale(0.86,1)" font-size="12.4" text-anchor="middle" fill="#000000" stroke="#000000" stroke-width="0.1">30</text><line x1="403.6" y1="421" x2="403.6" y2="424.4" stroke="#4a4a4a" stroke-width="1.3"/><text transform="translate(403.8,435.3) scale(0.86,1)" font-size="12.4" text-anchor="middle" fill="#000000" stroke="#000000" stroke-width="0.1">35</text><text x="316.8" y="449.5" font-size="10.3" text-anchor="middle" font-weight="normal" fill="#000000" stroke="#000000" stroke-width="0.25">Time (3-day periods)</text><line x1="417.4" y1="421" x2="417.4" y2="424.4" stroke="#4a4a4a" stroke-width="1.3"/><text transform="translate(417.6,435.3) scale(0.86,1)" font-size="12.4" text-anchor="middle" fill="#000000" stroke="#000000" stroke-width="0.1">0</text><line x1="442.2" y1="421" x2="442.2" y2="424.4" stroke="#4a4a4a" stroke-width="1.3"/><text transform="translate(442.4,435.3) scale(0.86,1)" font-size="12.4" text-anchor="middle" fill="#000000" stroke="#000000" stroke-width="0.1">5</text><line x1="467" y1="421" x2="467" y2="424.4" stroke="#4a4a4a" stroke-width="1.3"/><text transform="translate(467.2,435.3) scale(0.86,1)" font-size="12.4" text-anchor="middle" fill="#000000" stroke="#000000" stroke-width="0.1">10</text><line x1="491.8" y1="421" x2="491.8" y2="424.4" stroke="#4a4a4a" stroke-width="1.3"/><text transform="translate(492,435.3) scale(0.86,1)" font-size="12.4" text-anchor="middle" fill="#000000" stroke="#000000" stroke-width="0.1">15</text><line x1="516.6" y1="421" x2="516.6" y2="424.4" stroke="#4a4a4a" stroke-width="1.3"/><text transform="translate(516.8,435.3) scale(0.86,1)" font-size="12.4" text-anchor="middle" fill="#000000" stroke="#000000" stroke-width="0.1">20</text><line x1="541.4" y1="421" x2="541.4" y2="424.4" stroke="#4a4a4a" stroke-width="1.3"/><text transform="translate(541.6,435.3) scale(0.86,1)" font-size="12.4" text-anchor="middle" fill="#000000" stroke="#000000" stroke-width="0.1">25</text><line x1="566.2" y1="421" x2="566.2" y2="424.4" stroke="#4a4a4a" stroke-width="1.3"/><text transform="translate(566.4,435.3) scale(0.86,1)" font-size="12.4" text-anchor="middle" fill="#000000" stroke="#000000" stroke-width="0.1">30</text><line x1="591" y1="421" x2="591" y2="424.4" stroke="#4a4a4a" stroke-width="1.3"/><text transform="translate(591.2,435.3) scale(0.86,1)" font-size="12.4" text-anchor="middle" fill="#000000" stroke="#000000" stroke-width="0.1">35</text><text x="551.5" y="449.5" font-size="10.3" text-anchor="middle" font-weight="normal" fill="#000000" stroke="#000000" stroke-width="0.25">Time (3-day periods)</text><line x1="36" y1="490.35" x2="36" y2="679.15" stroke="#4a4a4a" stroke-width="1.3"/><line x1="32.6" y1="491" x2="410.6" y2="491" stroke="#4a4a4a" stroke-width="1.3"/><line x1="32.6" y1="678.5" x2="410.6" y2="678.5" stroke="#4a4a4a" stroke-width="1.3"/><line x1="223.3" y1="491" x2="223.3" y2="678.5" stroke="#4a4a4a" stroke-width="1.3"/><line x1="410.6" y1="490.35" x2="410.6" y2="679.15" stroke="#4a4a4a" stroke-width="1.3"/><line x1="32.6" y1="678.5" x2="36" y2="678.5" stroke="#4a4a4a" stroke-width="1.3"/><text transform="translate(30,678.1) scale(0.86,1)" font-size="12.4" text-anchor="end" fill="#000000" stroke="#000000" stroke-width="0.1">0.0</text><line x1="32.6" y1="647.25" x2="36" y2="647.25" stroke="#4a4a4a" stroke-width="1.3"/><text transform="translate(30,650.85) scale(0.86,1)" font-size="12.4" text-anchor="end" fill="#000000" stroke="#000000" stroke-width="0.1">0.1</text><line x1="32.6" y1="616" x2="36" y2="616" stroke="#4a4a4a" stroke-width="1.3"/><text transform="translate(30,619.6) scale(0.86,1)" font-size="12.4" text-anchor="end" fill="#000000" stroke="#000000" stroke-width="0.1">0.2</text><line x1="32.6" y1="584.75" x2="36" y2="584.75" stroke="#4a4a4a" stroke-width="1.3"/><text transform="translate(30,588.35) scale(0.86,1)" font-size="12.4" text-anchor="end" fill="#000000" stroke="#000000" stroke-width="0.1">0.3</text><line x1="32.6" y1="553.5" x2="36" y2="553.5" stroke="#4a4a4a" stroke-width="1.3"/><text transform="translate(30,557.1) scale(0.86,1)" font-size="12.4" text-anchor="end" fill="#000000" stroke="#000000" stroke-width="0.1">0.4</text><line x1="32.6" y1="522.25" x2="36" y2="522.25" stroke="#4a4a4a" stroke-width="1.3"/><text transform="translate(30,525.85) scale(0.86,1)" font-size="12.4" text-anchor="end" fill="#000000" stroke="#000000" stroke-width="0.1">0.5</text><line x1="32.6" y1="491" x2="36" y2="491" stroke="#4a4a4a" stroke-width="1.3"/><text transform="translate(30,494.6) scale(0.86,1)" font-size="12.4" text-anchor="end" fill="#000000" stroke="#000000" stroke-width="0.1">0.6</text><text transform="translate(9.6,584.75) rotate(-90)" font-size="11.1" text-anchor="middle" fill="#000000" stroke="#000000" stroke-width="0.25">Fish proportion</text><line x1="410.6" y1="678.5" x2="414.1" y2="678.5" stroke="#4a4a4a" stroke-width="1.3"/><text transform="translate(419,682.1) scale(0.86,1)" font-size="12.4" text-anchor="start" fill="#000000" stroke="#000000" stroke-width="0.1">0</text><line x1="410.6" y1="647.25" x2="414.1" y2="647.25" stroke="#4a4a4a" stroke-width="1.3"/><text transform="translate(419,650.85) scale(0.86,1)" font-size="12.4" text-anchor="start" fill="#000000" stroke="#000000" stroke-width="0.1">5</text><line x1="410.6" y1="616" x2="414.1" y2="616" stroke="#4a4a4a" stroke-width="1.3"/><text transform="translate(417.2,619.6) scale(0.86,1)" font-size="12.4" text-anchor="start" fill="#000000" stroke="#000000" stroke-width="0.1">10</text><line x1="410.6" y1="584.75" x2="414.1" y2="584.75" stroke="#4a4a4a" stroke-width="1.3"/><text transform="translate(417.2,588.35) scale(0.86,1)" font-size="12.4" text-anchor="start" fill="#000000" stroke="#000000" stroke-width="0.1">15</text><line x1="410.6" y1="553.5" x2="414.1" y2="553.5" stroke="#4a4a4a" stroke-width="1.3"/><text transform="translate(417.2,557.1) scale(0.86,1)" font-size="12.4" text-anchor="start" fill="#000000" stroke="#000000" stroke-width="0.1">20</text><line x1="410.6" y1="522.25" x2="414.1" y2="522.25" stroke="#4a4a4a" stroke-width="1.3"/><text transform="translate(417.2,525.85) scale(0.86,1)" font-size="12.4" text-anchor="start" fill="#000000" stroke="#000000" stroke-width="0.1">25</text><line x1="410.6" y1="491" x2="414.1" y2="491" stroke="#4a4a4a" stroke-width="1.3"/><text transform="translate(417.2,494.6) scale(0.86,1)" font-size="12.4" text-anchor="start" fill="#000000" stroke="#000000" stroke-width="0.1">30</text><line x1="469.8" y1="490.35" x2="469.8" y2="679.15" stroke="#4a4a4a" stroke-width="1.3"/><line x1="451.2" y1="491" x2="473.2" y2="491" stroke="#4a4a4a" stroke-width="1.3"/><line x1="451.2" y1="678.5" x2="473.2" y2="678.5" stroke="#4a4a4a" stroke-width="1.3"/><line x1="466.2" y1="509.75" x2="469.8" y2="509.75" stroke="#4a4a4a" stroke-width="1.3"/><text x="464.5" y="514.15" font-size="11.3" text-anchor="end" font-weight="normal" fill="#000000" stroke="#000000" stroke-width="0.25">884</text><line x1="466.2" y1="547.25" x2="469.8" y2="547.25" stroke="#4a4a4a" stroke-width="1.3"/><text x="464.5" y="551.65" font-size="11.3" text-anchor="end" font-weight="normal" fill="#000000" stroke="#000000" stroke-width="0.25">882</text><line x1="466.2" y1="584.75" x2="469.8" y2="584.75" stroke="#4a4a4a" stroke-width="1.3"/><text x="464.5" y="589.15" font-size="11.3" text-anchor="end" font-weight="normal" fill="#000000" stroke="#000000" stroke-width="0.25">880</text><line x1="466.2" y1="622.25" x2="469.8" y2="622.25" stroke="#4a4a4a" stroke-width="1.3"/><text x="464.5" y="626.65" font-size="11.3" text-anchor="end" font-weight="normal" fill="#000000" stroke="#000000" stroke-width="0.25">878</text><line x1="466.2" y1="659.75" x2="469.8" y2="659.75" stroke="#4a4a4a" stroke-width="1.3"/><text x="464.5" y="664.15" font-size="11.3" text-anchor="end" font-weight="normal" fill="#000000" stroke="#000000" stroke-width="0.25">876</text><line x1="469.8" y1="491" x2="473.2" y2="491" stroke="#4a4a4a" stroke-width="1.3"/><text x="474.8" y="494.9" font-size="11.7" text-anchor="start" font-weight="normal" fill="#000000" stroke="#000000" stroke-width="0.25">15.5</text><line x1="469.8" y1="528.5" x2="473.2" y2="528.5" stroke="#4a4a4a" stroke-width="1.3"/><text x="474.8" y="532.4" font-size="11.7" text-anchor="start" font-weight="normal" fill="#000000" stroke="#000000" stroke-width="0.25">15.0</text><line x1="469.8" y1="566" x2="473.2" y2="566" stroke="#4a4a4a" stroke-width="1.3"/><text x="474.8" y="569.9" font-size="11.7" text-anchor="start" font-weight="normal" fill="#000000" stroke="#000000" stroke-width="0.25">14.5</text><line x1="469.8" y1="603.5" x2="473.2" y2="603.5" stroke="#4a4a4a" stroke-width="1.3"/><text x="474.8" y="607.4" font-size="11.7" text-anchor="start" font-weight="normal" fill="#000000" stroke="#000000" stroke-width="0.25">14.0</text><line x1="469.8" y1="641" x2="473.2" y2="641" stroke="#4a4a4a" stroke-width="1.3"/><text x="474.8" y="644.9" font-size="11.7" text-anchor="start" font-weight="normal" fill="#000000" stroke="#000000" stroke-width="0.25">13.5</text><line x1="469.8" y1="678.5" x2="473.2" y2="678.5" stroke="#4a4a4a" stroke-width="1.3"/><text x="474.8" y="682.4" font-size="11.7" text-anchor="start" font-weight="normal" fill="#000000" stroke="#000000" stroke-width="0.25">13.0</text><text x="407.3" y="464.5" font-size="11.2" text-anchor="start" font-weight="normal" fill="#000000" stroke="#000000" stroke-width="0.25">T (ºC)</text><text x="401.2" y="479" font-size="11.2" text-anchor="start" font-weight="normal" fill="#000000" stroke="#000000" stroke-width="0.25">Q (m<tspan font-size="6.5" dy="-4.2">3</tspan><tspan dy="4.2">/s)</tspan></text><text x="444.5" y="479" font-size="11.2" text-anchor="start" font-weight="normal" fill="#000000" stroke="#000000" stroke-width="0.25">Z (m)</text><text x="474.5" y="479" font-size="11.2" text-anchor="start" font-weight="normal" fill="#000000" stroke="#000000" stroke-width="0.25">P (h)</text><line x1="74.4" y1="487.4" x2="74.4" y2="491" stroke="#4a4a4a" stroke-width="1.3"/><line x1="125.4" y1="487.4" x2="125.4" y2="491" stroke="#4a4a4a" stroke-width="1.3"/><line x1="174.7" y1="487.4" x2="174.7" y2="491" stroke="#4a4a4a" stroke-width="1.3"/><text x="55.7" y="485.3" font-size="11.2" text-anchor="middle" font-weight="normal" fill="#000000" stroke="#000000" stroke-width="0.25">ABR</text><text x="100" y="485.3" font-size="11.2" text-anchor="middle" font-weight="normal" fill="#000000" stroke="#000000" stroke-width="0.25">MAY</text><text x="151.1" y="485.3" font-size="11.2" text-anchor="middle" font-weight="normal" fill="#000000" stroke="#000000" stroke-width="0.25">JUN</text><text x="200.8" y="485.3" font-size="11.2" text-anchor="middle" font-weight="normal" fill="#000000" stroke="#000000" stroke-width="0.25">JUL</text><line x1="261.7" y1="487.4" x2="261.7" y2="491" stroke="#4a4a4a" stroke-width="1.3"/><line x1="312.7" y1="487.4" x2="312.7" y2="491" stroke="#4a4a4a" stroke-width="1.3"/><line x1="362" y1="487.4" x2="362" y2="491" stroke="#4a4a4a" stroke-width="1.3"/><text x="243" y="485.3" font-size="11.2" text-anchor="middle" font-weight="normal" fill="#000000" stroke="#000000" stroke-width="0.25">ABR</text><text x="287.3" y="485.3" font-size="11.2" text-anchor="middle" font-weight="normal" fill="#000000" stroke="#000000" stroke-width="0.25">MAY</text><text x="338.4" y="485.3" font-size="11.2" text-anchor="middle" font-weight="normal" fill="#000000" stroke="#000000" stroke-width="0.25">JUN</text><text x="388.1" y="485.3" font-size="11.2" text-anchor="middle" font-weight="normal" fill="#000000" stroke="#000000" stroke-width="0.25">JUL</text><line x1="36" y1="686.95" x2="36" y2="875.65" stroke="#4a4a4a" stroke-width="1.3"/><line x1="32.6" y1="687.6" x2="597.9" y2="687.6" stroke="#4a4a4a" stroke-width="1.3"/><line x1="32.6" y1="875" x2="597.9" y2="875" stroke="#4a4a4a" stroke-width="1.3"/><line x1="223.3" y1="687.6" x2="223.3" y2="875" stroke="#4a4a4a" stroke-width="1.3"/><line x1="410.6" y1="687.6" x2="410.6" y2="875" stroke="#4a4a4a" stroke-width="1.3"/><line x1="597.9" y1="686.95" x2="597.9" y2="875.65" stroke="#4a4a4a" stroke-width="1.3"/><line x1="32.6" y1="875" x2="36" y2="875" stroke="#4a4a4a" stroke-width="1.3"/><text transform="translate(30,874.6) scale(0.86,1)" font-size="12.4" text-anchor="end" fill="#000000" stroke="#000000" stroke-width="0.1">0.0</text><line x1="32.6" y1="843.77" x2="36" y2="843.77" stroke="#4a4a4a" stroke-width="1.3"/><text transform="translate(30,847.37) scale(0.86,1)" font-size="12.4" text-anchor="end" fill="#000000" stroke="#000000" stroke-width="0.1">0.1</text><line x1="32.6" y1="812.53" x2="36" y2="812.53" stroke="#4a4a4a" stroke-width="1.3"/><text transform="translate(30,816.13) scale(0.86,1)" font-size="12.4" text-anchor="end" fill="#000000" stroke="#000000" stroke-width="0.1">0.2</text><line x1="32.6" y1="781.3" x2="36" y2="781.3" stroke="#4a4a4a" stroke-width="1.3"/><text transform="translate(30,784.9) scale(0.86,1)" font-size="12.4" text-anchor="end" fill="#000000" stroke="#000000" stroke-width="0.1">0.3</text><line x1="32.6" y1="750.07" x2="36" y2="750.07" stroke="#4a4a4a" stroke-width="1.3"/><text transform="translate(30,753.67) scale(0.86,1)" font-size="12.4" text-anchor="end" fill="#000000" stroke="#000000" stroke-width="0.1">0.4</text><line x1="32.6" y1="718.83" x2="36" y2="718.83" stroke="#4a4a4a" stroke-width="1.3"/><text transform="translate(30,722.43) scale(0.86,1)" font-size="12.4" text-anchor="end" fill="#000000" stroke="#000000" stroke-width="0.1">0.5</text><line x1="32.6" y1="687.6" x2="36" y2="687.6" stroke="#4a4a4a" stroke-width="1.3"/><text transform="translate(30,691.2) scale(0.86,1)" font-size="12.4" text-anchor="end" fill="#000000" stroke="#000000" stroke-width="0.1">0.6</text><text transform="translate(9.6,781.3) rotate(-90)" font-size="11.1" text-anchor="middle" fill="#000000" stroke="#000000" stroke-width="0.25">Fish proportion</text><line x1="597.9" y1="875" x2="601.4" y2="875" stroke="#4a4a4a" stroke-width="1.3"/><text transform="translate(606.3,878.6) scale(0.86,1)" font-size="12.4" text-anchor="start" fill="#000000" stroke="#000000" stroke-width="0.1">0</text><line x1="597.9" y1="843.77" x2="601.4" y2="843.77" stroke="#4a4a4a" stroke-width="1.3"/><text transform="translate(606.3,847.37) scale(0.86,1)" font-size="12.4" text-anchor="start" fill="#000000" stroke="#000000" stroke-width="0.1">5</text><line x1="597.9" y1="812.53" x2="601.4" y2="812.53" stroke="#4a4a4a" stroke-width="1.3"/><text transform="translate(604.5,816.13) scale(0.86,1)" font-size="12.4" text-anchor="start" fill="#000000" stroke="#000000" stroke-width="0.1">10</text><line x1="597.9" y1="781.3" x2="601.4" y2="781.3" stroke="#4a4a4a" stroke-width="1.3"/><text transform="translate(604.5,784.9) scale(0.86,1)" font-size="12.4" text-anchor="start" fill="#000000" stroke="#000000" stroke-width="0.1">15</text><line x1="597.9" y1="750.07" x2="601.4" y2="750.07" stroke="#4a4a4a" stroke-width="1.3"/><text transform="translate(604.5,753.67) scale(0.86,1)" font-size="12.4" text-anchor="start" fill="#000000" stroke="#000000" stroke-width="0.1">20</text><line x1="597.9" y1="718.83" x2="601.4" y2="718.83" stroke="#4a4a4a" stroke-width="1.3"/><text transform="translate(604.5,722.43) scale(0.86,1)" font-size="12.4" text-anchor="start" fill="#000000" stroke="#000000" stroke-width="0.1">25</text><line x1="597.9" y1="687.6" x2="601.4" y2="687.6" stroke="#4a4a4a" stroke-width="1.3"/><text transform="translate(604.5,691.2) scale(0.86,1)" font-size="12.4" text-anchor="start" fill="#000000" stroke="#000000" stroke-width="0.1">30</text><line x1="657.1" y1="686.95" x2="657.1" y2="875.65" stroke="#4a4a4a" stroke-width="1.3"/><line x1="638.5" y1="687.6" x2="660.5" y2="687.6" stroke="#4a4a4a" stroke-width="1.3"/><line x1="638.5" y1="875" x2="660.5" y2="875" stroke="#4a4a4a" stroke-width="1.3"/><line x1="653.5" y1="706.34" x2="657.1" y2="706.34" stroke="#4a4a4a" stroke-width="1.3"/><text x="651.8" y="710.74" font-size="11.3" text-anchor="end" font-weight="normal" fill="#000000" stroke="#000000" stroke-width="0.25">884</text><line x1="653.5" y1="743.82" x2="657.1" y2="743.82" stroke="#4a4a4a" stroke-width="1.3"/><text x="651.8" y="748.22" font-size="11.3" text-anchor="end" font-weight="normal" fill="#000000" stroke="#000000" stroke-width="0.25">882</text><line x1="653.5" y1="781.3" x2="657.1" y2="781.3" stroke="#4a4a4a" stroke-width="1.3"/><text x="651.8" y="785.7" font-size="11.3" text-anchor="end" font-weight="normal" fill="#000000" stroke="#000000" stroke-width="0.25">880</text><line x1="653.5" y1="818.78" x2="657.1" y2="818.78" stroke="#4a4a4a" stroke-width="1.3"/><text x="651.8" y="823.18" font-size="11.3" text-anchor="end" font-weight="normal" fill="#000000" stroke="#000000" stroke-width="0.25">878</text><line x1="653.5" y1="856.26" x2="657.1" y2="856.26" stroke="#4a4a4a" stroke-width="1.3"/><text x="651.8" y="860.66" font-size="11.3" text-anchor="end" font-weight="normal" fill="#000000" stroke="#000000" stroke-width="0.25">876</text><line x1="657.1" y1="687.6" x2="660.5" y2="687.6" stroke="#4a4a4a" stroke-width="1.3"/><text x="662.1" y="691.5" font-size="11.7" text-anchor="start" font-weight="normal" fill="#000000" stroke="#000000" stroke-width="0.25">15.5</text><line x1="657.1" y1="725.08" x2="660.5" y2="725.08" stroke="#4a4a4a" stroke-width="1.3"/><text x="662.1" y="728.98" font-size="11.7" text-anchor="start" font-weight="normal" fill="#000000" stroke="#000000" stroke-width="0.25">15.0</text><line x1="657.1" y1="762.56" x2="660.5" y2="762.56" stroke="#4a4a4a" stroke-width="1.3"/><text x="662.1" y="766.46" font-size="11.7" text-anchor="start" font-weight="normal" fill="#000000" stroke="#000000" stroke-width="0.25">14.5</text><line x1="657.1" y1="800.04" x2="660.5" y2="800.04" stroke="#4a4a4a" stroke-width="1.3"/><text x="662.1" y="803.94" font-size="11.7" text-anchor="start" font-weight="normal" fill="#000000" stroke="#000000" stroke-width="0.25">14.0</text><line x1="657.1" y1="837.52" x2="660.5" y2="837.52" stroke="#4a4a4a" stroke-width="1.3"/><text x="662.1" y="841.42" font-size="11.7" text-anchor="start" font-weight="normal" fill="#000000" stroke="#000000" stroke-width="0.25">13.5</text><line x1="657.1" y1="875" x2="660.5" y2="875" stroke="#4a4a4a" stroke-width="1.3"/><text x="662.1" y="878.9" font-size="11.7" text-anchor="start" font-weight="normal" fill="#000000" stroke="#000000" stroke-width="0.25">13.0</text><text x="594.6" y="661.1" font-size="11.2" text-anchor="start" font-weight="normal" fill="#000000" stroke="#000000" stroke-width="0.25">T (ºC)</text><text x="588.5" y="675.6" font-size="11.2" text-anchor="start" font-weight="normal" fill="#000000" stroke="#000000" stroke-width="0.25">Q (m<tspan font-size="6.5" dy="-4.2">3</tspan><tspan dy="4.2">/s)</tspan></text><text x="631.8" y="675.6" font-size="11.2" text-anchor="start" font-weight="normal" fill="#000000" stroke="#000000" stroke-width="0.25">Z (m)</text><text x="661.8" y="675.6" font-size="11.2" text-anchor="start" font-weight="normal" fill="#000000" stroke="#000000" stroke-width="0.25">P (h)</text><line x1="42.6" y1="875" x2="42.6" y2="878.4" stroke="#4a4a4a" stroke-width="1.3"/><text transform="translate(42.8,889.3) scale(0.86,1)" font-size="12.4" text-anchor="middle" fill="#000000" stroke="#000000" stroke-width="0.1">0</text><line x1="67.4" y1="875" x2="67.4" y2="878.4" stroke="#4a4a4a" stroke-width="1.3"/><text transform="translate(67.6,889.3) scale(0.86,1)" font-size="12.4" text-anchor="middle" fill="#000000" stroke="#000000" stroke-width="0.1">5</text><line x1="92.2" y1="875" x2="92.2" y2="878.4" stroke="#4a4a4a" stroke-width="1.3"/><text transform="translate(92.4,889.3) scale(0.86,1)" font-size="12.4" text-anchor="middle" fill="#000000" stroke="#000000" stroke-width="0.1">10</text><line x1="117" y1="875" x2="117" y2="878.4" stroke="#4a4a4a" stroke-width="1.3"/><text transform="translate(117.2,889.3) scale(0.86,1)" font-size="12.4" text-anchor="middle" fill="#000000" stroke="#000000" stroke-width="0.1">15</text><line x1="141.8" y1="875" x2="141.8" y2="878.4" stroke="#4a4a4a" stroke-width="1.3"/><text transform="translate(142,889.3) scale(0.86,1)" font-size="12.4" text-anchor="middle" fill="#000000" stroke="#000000" stroke-width="0.1">20</text><line x1="166.6" y1="875" x2="166.6" y2="878.4" stroke="#4a4a4a" stroke-width="1.3"/><text transform="translate(166.8,889.3) scale(0.86,1)" font-size="12.4" text-anchor="middle" fill="#000000" stroke="#000000" stroke-width="0.1">25</text><line x1="191.4" y1="875" x2="191.4" y2="878.4" stroke="#4a4a4a" stroke-width="1.3"/><text transform="translate(191.6,889.3) scale(0.86,1)" font-size="12.4" text-anchor="middle" fill="#000000" stroke="#000000" stroke-width="0.1">30</text><line x1="216.2" y1="875" x2="216.2" y2="878.4" stroke="#4a4a4a" stroke-width="1.3"/><text transform="translate(216.4,889.3) scale(0.86,1)" font-size="12.4" text-anchor="middle" fill="#000000" stroke="#000000" stroke-width="0.1">35</text><text x="131.2" y="903.5" font-size="10.3" text-anchor="middle" font-weight="normal" fill="#000000" stroke="#000000" stroke-width="0.25">Time (3-day periods)</text><line x1="230" y1="875" x2="230" y2="878.4" stroke="#4a4a4a" stroke-width="1.3"/><text transform="translate(230.2,889.3) scale(0.86,1)" font-size="12.4" text-anchor="middle" fill="#000000" stroke="#000000" stroke-width="0.1">0</text><line x1="254.8" y1="875" x2="254.8" y2="878.4" stroke="#4a4a4a" stroke-width="1.3"/><text transform="translate(255,889.3) scale(0.86,1)" font-size="12.4" text-anchor="middle" fill="#000000" stroke="#000000" stroke-width="0.1">5</text><line x1="279.6" y1="875" x2="279.6" y2="878.4" stroke="#4a4a4a" stroke-width="1.3"/><text transform="translate(279.8,889.3) scale(0.86,1)" font-size="12.4" text-anchor="middle" fill="#000000" stroke="#000000" stroke-width="0.1">10</text><line x1="304.4" y1="875" x2="304.4" y2="878.4" stroke="#4a4a4a" stroke-width="1.3"/><text transform="translate(304.6,889.3) scale(0.86,1)" font-size="12.4" text-anchor="middle" fill="#000000" stroke="#000000" stroke-width="0.1">15</text><line x1="329.2" y1="875" x2="329.2" y2="878.4" stroke="#4a4a4a" stroke-width="1.3"/><text transform="translate(329.4,889.3) scale(0.86,1)" font-size="12.4" text-anchor="middle" fill="#000000" stroke="#000000" stroke-width="0.1">20</text><line x1="354" y1="875" x2="354" y2="878.4" stroke="#4a4a4a" stroke-width="1.3"/><text transform="translate(354.2,889.3) scale(0.86,1)" font-size="12.4" text-anchor="middle" fill="#000000" stroke="#000000" stroke-width="0.1">25</text><line x1="378.8" y1="875" x2="378.8" y2="878.4" stroke="#4a4a4a" stroke-width="1.3"/><text transform="translate(379,889.3) scale(0.86,1)" font-size="12.4" text-anchor="middle" fill="#000000" stroke="#000000" stroke-width="0.1">30</text><line x1="403.6" y1="875" x2="403.6" y2="878.4" stroke="#4a4a4a" stroke-width="1.3"/><text transform="translate(403.8,889.3) scale(0.86,1)" font-size="12.4" text-anchor="middle" fill="#000000" stroke="#000000" stroke-width="0.1">35</text><text x="316.7" y="903.5" font-size="10.3" text-anchor="middle" font-weight="normal" fill="#000000" stroke="#000000" stroke-width="0.25">Time (3-day periods)</text><line x1="417.4" y1="875" x2="417.4" y2="878.4" stroke="#4a4a4a" stroke-width="1.3"/><text transform="translate(417.6,889.3) scale(0.86,1)" font-size="12.4" text-anchor="middle" fill="#000000" stroke="#000000" stroke-width="0.1">0</text><line x1="442.2" y1="875" x2="442.2" y2="878.4" stroke="#4a4a4a" stroke-width="1.3"/><text transform="translate(442.4,889.3) scale(0.86,1)" font-size="12.4" text-anchor="middle" fill="#000000" stroke="#000000" stroke-width="0.1">5</text><line x1="467" y1="875" x2="467" y2="878.4" stroke="#4a4a4a" stroke-width="1.3"/><text transform="translate(467.2,889.3) scale(0.86,1)" font-size="12.4" text-anchor="middle" fill="#000000" stroke="#000000" stroke-width="0.1">10</text><line x1="491.8" y1="875" x2="491.8" y2="878.4" stroke="#4a4a4a" stroke-width="1.3"/><text transform="translate(492,889.3) scale(0.86,1)" font-size="12.4" text-anchor="middle" fill="#000000" stroke="#000000" stroke-width="0.1">15</text><line x1="516.6" y1="875" x2="516.6" y2="878.4" stroke="#4a4a4a" stroke-width="1.3"/><text transform="translate(516.8,889.3) scale(0.86,1)" font-size="12.4" text-anchor="middle" fill="#000000" stroke="#000000" stroke-width="0.1">20</text><line x1="541.4" y1="875" x2="541.4" y2="878.4" stroke="#4a4a4a" stroke-width="1.3"/><text transform="translate(541.6,889.3) scale(0.86,1)" font-size="12.4" text-anchor="middle" fill="#000000" stroke="#000000" stroke-width="0.1">25</text><line x1="566.2" y1="875" x2="566.2" y2="878.4" stroke="#4a4a4a" stroke-width="1.3"/><text transform="translate(566.4,889.3) scale(0.86,1)" font-size="12.4" text-anchor="middle" fill="#000000" stroke="#000000" stroke-width="0.1">30</text><line x1="591" y1="875" x2="591" y2="878.4" stroke="#4a4a4a" stroke-width="1.3"/><text transform="translate(591.2,889.3) scale(0.86,1)" font-size="12.4" text-anchor="middle" fill="#000000" stroke="#000000" stroke-width="0.1">35</text><text x="504.4" y="903.5" font-size="10.3" text-anchor="middle" font-weight="normal" fill="#000000" stroke="#000000" stroke-width="0.25">Time (3-day periods)</text><rect x="514.3" y="74.5" width="167.5" height="91.1" fill="none" stroke="#4a4a4a" stroke-width="1.1"/><line x1="521.2" y1="87.4" x2="539.6" y2="87.4" stroke="#e04238" stroke-width="1"/><text x="545.7" y="88.9" font-size="11.2" text-anchor="start" font-weight="normal" fill="#000000" stroke="#000000" stroke-width="0.25">T - Water temperature (ºC)</text><line x1="521.2" y1="100.33" x2="539.6" y2="100.33" stroke="#f39322" stroke-width="1" stroke-dasharray="2.8,2.6"/><text x="545.7" y="102.87" font-size="11.2" text-anchor="start" font-weight="normal" fill="#000000" stroke="#000000" stroke-width="0.25">P - Photoperiod (h)</text><line x1="521.2" y1="113.26" x2="539.6" y2="113.26" stroke="#2457b8" stroke-width="1"/><text x="545.7" y="116.84" font-size="11.2" text-anchor="start" font-weight="normal" fill="#000000" stroke="#000000" stroke-width="0.25">Q - River discharge (m<tspan font-size="6.5" dy="-4.2">3</tspan><tspan dy="4.2">/s)</tspan></text><line x1="521.2" y1="126.19" x2="539.6" y2="126.19" stroke="#7d7d7d" stroke-width="1"/><text x="545.7" y="130.81" font-size="11.2" text-anchor="start" font-weight="normal" fill="#000000" stroke="#000000" stroke-width="0.25">Z - S. T. reservoir level (m)</text><line x1="521.2" y1="139.12" x2="539.6" y2="139.12" stroke="#9a9a9a" stroke-width="1" stroke-dasharray="3,3.5"/><text x="545.7" y="144.78" font-size="11.2" text-anchor="start" font-weight="normal" fill="#000000" stroke="#000000" stroke-width="0.25">Z = 882.6 m a.s.l.</text><rect x="524.4" y="148.9" width="11.9" height="11.9" fill="#ebebeb"/><text x="545.7" y="158.75" font-size="11.2" text-anchor="start" font-weight="normal" fill="#000000" stroke="#000000" stroke-width="0.25">Monitoring period</text><rect x="514.3" y="528.5" width="167.5" height="91.1" fill="none" stroke="#4a4a4a" stroke-width="1.1"/><line x1="521.2" y1="541.4" x2="539.6" y2="541.4" stroke="#e04238" stroke-width="1"/><text x="545.7" y="542.9" font-size="11.2" text-anchor="start" font-weight="normal" fill="#000000" stroke="#000000" stroke-width="0.25">T - Water temperature (ºC)</text><line x1="521.2" y1="554.33" x2="539.6" y2="554.33" stroke="#f39322" stroke-width="1" stroke-dasharray="2.8,2.6"/><text x="545.7" y="556.87" font-size="11.2" text-anchor="start" font-weight="normal" fill="#000000" stroke="#000000" stroke-width="0.25">P - Photoperiod (h)</text><line x1="521.2" y1="567.26" x2="539.6" y2="567.26" stroke="#2457b8" stroke-width="1"/><text x="545.7" y="570.84" font-size="11.2" text-anchor="start" font-weight="normal" fill="#000000" stroke="#000000" stroke-width="0.25">Q - River discharge (m<tspan font-size="6.5" dy="-4.2">3</tspan><tspan dy="4.2">/s)</tspan></text><line x1="521.2" y1="580.19" x2="539.6" y2="580.19" stroke="#7d7d7d" stroke-width="1"/><text x="545.7" y="584.81" font-size="11.2" text-anchor="start" font-weight="normal" fill="#000000" stroke="#000000" stroke-width="0.25">Z - S. T. reservoir level (m)</text><line x1="521.2" y1="593.12" x2="539.6" y2="593.12" stroke="#9a9a9a" stroke-width="1" stroke-dasharray="3,3.5"/><text x="545.7" y="598.78" font-size="11.2" text-anchor="start" font-weight="normal" fill="#000000" stroke="#000000" stroke-width="0.25">Z = 882.6 m a.s.l.</text><rect x="524.4" y="602.9" width="11.9" height="11.9" fill="#ebebeb"/><text x="545.7" y="612.75" font-size="11.2" text-anchor="start" font-weight="normal" fill="#000000" stroke="#000000" stroke-width="0.25">Monitoring period</text></svg>
</body></html>
